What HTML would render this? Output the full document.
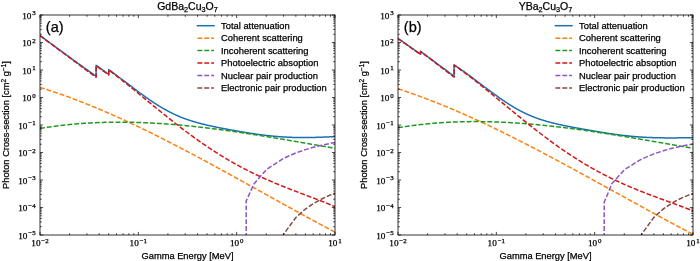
<!DOCTYPE html>
<html><head><meta charset="utf-8"><style>
*{margin:0;padding:0}
html,body{width:700px;height:261px;overflow:hidden;background:#fff}
svg{display:block;will-change:transform}
text{-webkit-font-smoothing:antialiased}
text{font-family:"Liberation Sans",sans-serif;fill:#000;stroke:#000;stroke-width:0.25px}
.tk{font-family:"Liberation Serif",serif;font-size:9.2px}
.sp{font-size:6.9px}
.lg{font-size:9.4px}
.xl{font-size:9.3px}
.s2{font-size:6.5px}
.ti{font-size:10.5px}
.sb{font-size:7.3px}
.pl{font-size:14.5px}
</style></head><body>
<svg width="700" height="261" viewBox="0 0 700 261">
<rect width="700" height="261" fill="#fff"/>
<clipPath id="ca"><rect x="40" y="15" width="295" height="220"/></clipPath>
<g clip-path="url(#ca)" fill="none" stroke-width="1.5" stroke-linejoin="round">
<path d="M40,35.53 L40.33,35.78 L40.66,36.02 L40.98,36.26 L41.31,36.5 L41.64,36.74 L41.97,36.98 L42.3,37.23 L42.63,37.47 L42.95,37.71 L43.28,37.95 L43.61,38.19 L43.94,38.43 L44.27,38.67 L44.59,38.92 L44.92,39.16 L45.25,39.4 L45.58,39.64 L45.91,39.88 L46.23,40.12 L46.56,40.36 L46.89,40.61 L47.22,40.85 L47.55,41.09 L47.88,41.33 L48.2,41.57 L48.53,41.81 L48.86,42.05 L49.19,42.29 L49.52,42.53 L49.84,42.77 L50.17,43.02 L50.5,43.26 L50.83,43.5 L51.16,43.74 L51.48,43.98 L51.81,44.22 L52.14,44.46 L52.47,44.7 L52.8,44.94 L53.13,45.18 L53.45,45.42 L53.78,45.66 L54.11,45.9 L54.44,46.15 L54.77,46.39 L55.09,46.63 L55.42,46.87 L55.75,47.11 L56.08,47.35 L56.41,47.59 L56.74,47.83 L57.06,48.07 L57.39,48.31 L57.72,48.55 L58.05,48.79 L58.38,49.03 L58.7,49.27 L59.03,49.51 L59.36,49.75 L59.69,49.99 L60.02,50.23 L60.34,50.47 L60.67,50.71 L61,50.95 L61.33,51.19 L61.66,51.43 L61.99,51.67 L62.31,51.91 L62.64,52.15 L62.97,52.39 L63.3,52.62 L63.63,52.86 L63.95,53.1 L64.28,53.34 L64.61,53.58 L64.94,53.82 L65.27,54.06 L65.6,54.3 L65.92,54.54 L66.25,54.78 L66.58,55.02 L66.91,55.26 L67.24,55.49 L67.56,55.73 L67.89,55.97 L68.22,56.21 L68.55,56.45 L68.88,56.69 L69.2,56.93 L69.53,57.17 L69.86,57.4 L70.19,57.64 L70.52,57.88 L70.85,58.12 L71.17,58.36 L71.5,58.6 L71.83,58.83 L72.16,59.07 L72.49,59.31 L72.81,59.55 L73.14,59.79 L73.47,60.02 L73.8,60.26 L74.13,60.5 L74.45,60.74 L74.78,60.97 L75.11,61.21 L75.44,61.45 L75.77,61.69 L76.1,61.92 L76.42,62.16 L76.75,62.4 L77.08,62.63 L77.41,62.87 L77.74,63.11 L78.06,63.35 L78.39,63.58 L78.72,63.82 L79.05,64.06 L79.38,64.29 L79.71,64.53 L80.03,64.76 L80.36,65 L80.69,65.24 L81.02,65.47 L81.35,65.71 L81.67,65.94 L82,66.18 L82.33,66.42 L82.66,66.65 L82.99,66.89 L83.31,67.12 L83.64,67.36 L83.97,67.59 L84.3,67.83 L84.63,68.06 L84.96,68.3 L85.28,68.53 L85.61,68.77 L85.94,69 L86.27,69.24 L86.6,69.47 L86.92,69.71 L87.25,69.94 L87.58,70.18 L87.91,70.41 L88.24,70.64 L88.57,70.88 L88.89,71.11 L89.22,71.35 L89.55,71.58 L89.88,71.81 L90.21,72.05 L90.53,72.28 L90.86,72.51 L91.19,72.74 L91.52,72.98 L91.85,73.21 L92.17,73.44 L92.5,73.68 L92.83,73.91 L93.16,74.14 L93.49,74.37 L93.82,74.6 L94.14,74.84 L94.47,75.07 L94.8,75.3 L95.13,75.53 L95.46,75.76 L95.78,75.99 L96.1,76.21 L96.1,65.26 L96.11,65.26 L96.44,65.5 L96.77,65.74 L97.1,65.98 L97.42,66.21 L97.75,66.45 L98.08,66.69 L98.41,66.92 L98.74,67.16 L99.07,67.4 L99.39,67.63 L99.72,67.87 L100.05,68.1 L100.38,68.34 L100.71,68.58 L101.03,68.81 L101.36,69.05 L101.69,69.29 L102.02,69.52 L102.35,69.76 L102.68,69.99 L103,70.23 L103.33,70.46 L103.66,70.7 L103.99,70.93 L104.32,71.17 L104.64,71.41 L104.97,71.64 L105.3,71.88 L105.63,72.11 L105.96,72.34 L106.28,72.58 L106.61,72.81 L106.94,73.05 L107.27,73.28 L107.6,73.52 L107.93,73.75 L108.25,73.99 L108.58,74.22 L108.7,74.3 L108.7,69.62 L108.91,69.77 L109.24,70.01 L109.57,70.25 L109.89,70.48 L110.22,70.72 L110.55,70.96 L110.88,71.2 L111.21,71.44 L111.54,71.68 L111.86,71.92 L112.19,72.16 L112.52,72.4 L112.85,72.64 L113.18,72.88 L113.5,73.12 L113.83,73.36 L114.16,73.6 L114.49,73.84 L114.82,74.09 L115.14,74.33 L115.47,74.57 L115.8,74.82 L116.13,75.06 L116.46,75.3 L116.79,75.55 L117.11,75.79 L117.44,76.04 L117.77,76.28 L118.1,76.53 L118.43,76.77 L118.75,77.02 L119.08,77.26 L119.41,77.51 L119.74,77.76 L120.07,78 L120.39,78.25 L120.72,78.49 L121.05,78.74 L121.38,78.99 L121.71,79.24 L122.04,79.48 L122.36,79.73 L122.69,79.98 L123.02,80.22 L123.35,80.47 L123.68,80.72 L124,80.97 L124.33,81.22 L124.66,81.46 L124.99,81.71 L125.32,81.96 L125.65,82.21 L125.97,82.46 L126.3,82.7 L126.63,82.95 L126.96,83.2 L127.29,83.45 L127.61,83.7 L127.94,83.94 L128.27,84.19 L128.6,84.44 L128.93,84.69 L129.25,84.94 L129.58,85.18 L129.91,85.43 L130.24,85.68 L130.57,85.93 L130.9,86.17 L131.22,86.42 L131.55,86.67 L131.88,86.92 L132.21,87.16 L132.54,87.41 L132.86,87.66 L133.19,87.9 L133.52,88.15 L133.85,88.4 L134.18,88.64 L134.5,88.89 L134.83,89.13 L135.16,89.38 L135.49,89.62 L135.82,89.87 L136.15,90.11 L136.47,90.36 L136.8,90.6 L137.13,90.85 L137.46,91.09 L137.79,91.33 L138.11,91.57 L138.44,91.82 L138.77,92.06 L139.1,92.3 L139.43,92.54 L139.76,92.78 L140.08,93.03 L140.41,93.27 L140.74,93.51 L141.07,93.75 L141.4,93.98 L141.72,94.22 L142.05,94.46 L142.38,94.7 L142.71,94.94 L143.04,95.17 L143.36,95.41 L143.69,95.65 L144.02,95.88 L144.35,96.12 L144.68,96.35 L145.01,96.59 L145.33,96.82 L145.66,97.05 L145.99,97.29 L146.32,97.52 L146.65,97.75 L146.97,97.98 L147.3,98.21 L147.63,98.44 L147.96,98.67 L148.29,98.9 L148.62,99.12 L148.94,99.35 L149.27,99.58 L149.6,99.8 L149.93,100.03 L150.26,100.25 L150.58,100.48 L150.91,100.7 L151.24,100.92 L151.57,101.14 L151.9,101.36 L152.22,101.58 L152.55,101.8 L152.88,102.02 L153.21,102.24 L153.54,102.46 L153.87,102.67 L154.19,102.89 L154.52,103.1 L154.85,103.32 L155.18,103.53 L155.51,103.74 L155.83,103.95 L156.16,104.16 L156.49,104.37 L156.82,104.58 L157.15,104.79 L157.47,104.99 L157.8,105.2 L158.13,105.41 L158.46,105.61 L158.79,105.81 L159.12,106.01 L159.44,106.22 L159.77,106.42 L160.1,106.62 L160.43,106.81 L160.76,107.01 L161.08,107.21 L161.41,107.4 L161.74,107.6 L162.07,107.79 L162.4,107.98 L162.73,108.18 L163.05,108.37 L163.38,108.56 L163.71,108.74 L164.04,108.93 L164.37,109.12 L164.69,109.3 L165.02,109.49 L165.35,109.67 L165.68,109.85 L166.01,110.03 L166.33,110.21 L166.66,110.39 L166.99,110.57 L167.32,110.75 L167.65,110.92 L167.98,111.1 L168.3,111.27 L168.63,111.45 L168.96,111.62 L169.29,111.79 L169.62,111.96 L169.94,112.13 L170.27,112.29 L170.6,112.46 L170.93,112.62 L171.26,112.79 L171.59,112.95 L171.91,113.11 L172.24,113.27 L172.57,113.43 L172.9,113.59 L173.23,113.75 L173.55,113.91 L173.88,114.06 L174.21,114.22 L174.54,114.37 L174.87,114.52 L175.19,114.67 L175.52,114.82 L175.85,114.97 L176.18,115.12 L176.51,115.27 L176.84,115.41 L177.16,115.56 L177.49,115.7 L177.82,115.84 L178.15,115.98 L178.48,116.13 L178.8,116.26 L179.13,116.4 L179.46,116.54 L179.79,116.68 L180.12,116.81 L180.44,116.95 L180.77,117.08 L181.1,117.21 L181.43,117.34 L181.76,117.47 L182.09,117.6 L182.41,117.73 L182.74,117.86 L183.07,117.99 L183.4,118.11 L183.73,118.24 L184.05,118.36 L184.38,118.48 L184.71,118.6 L185.04,118.72 L185.37,118.84 L185.7,118.96 L186.02,119.08 L186.35,119.2 L186.68,119.32 L187.01,119.43 L187.34,119.54 L187.66,119.66 L187.99,119.77 L188.32,119.88 L188.65,119.99 L188.98,120.1 L189.3,120.21 L189.63,120.32 L189.96,120.43 L190.29,120.54 L190.62,120.64 L190.95,120.75 L191.27,120.85 L191.6,120.96 L191.93,121.06 L192.26,121.16 L192.59,121.26 L192.91,121.36 L193.24,121.46 L193.57,121.56 L193.9,121.66 L194.23,121.76 L194.56,121.86 L194.88,121.95 L195.21,122.05 L195.54,122.15 L195.87,122.24 L196.2,122.33 L196.52,122.43 L196.85,122.52 L197.18,122.61 L197.51,122.7 L197.84,122.79 L198.16,122.88 L198.49,122.97 L198.82,123.06 L199.15,123.15 L199.48,123.24 L199.81,123.32 L200.13,123.41 L200.46,123.5 L200.79,123.58 L201.12,123.67 L201.45,123.75 L201.77,123.84 L202.1,123.92 L202.43,124 L202.76,124.08 L203.09,124.17 L203.41,124.25 L203.74,124.33 L204.07,124.41 L204.4,124.49 L204.73,124.57 L205.06,124.65 L205.38,124.73 L205.71,124.8 L206.04,124.88 L206.37,124.96 L206.7,125.04 L207.02,125.11 L207.35,125.19 L207.68,125.26 L208.01,125.34 L208.34,125.41 L208.67,125.49 L208.99,125.56 L209.32,125.64 L209.65,125.71 L209.98,125.78 L210.31,125.85 L210.63,125.93 L210.96,126 L211.29,126.07 L211.62,126.14 L211.95,126.21 L212.27,126.28 L212.6,126.35 L212.93,126.42 L213.26,126.49 L213.59,126.56 L213.92,126.63 L214.24,126.7 L214.57,126.77 L214.9,126.84 L215.23,126.91 L215.56,126.97 L215.88,127.04 L216.21,127.11 L216.54,127.18 L216.87,127.24 L217.2,127.31 L217.52,127.38 L217.85,127.44 L218.18,127.51 L218.51,127.57 L218.84,127.64 L219.17,127.7 L219.49,127.77 L219.82,127.83 L220.15,127.9 L220.48,127.96 L220.81,128.03 L221.13,128.09 L221.46,128.15 L221.79,128.22 L222.12,128.28 L222.45,128.34 L222.78,128.41 L223.1,128.47 L223.43,128.53 L223.76,128.6 L224.09,128.66 L224.42,128.72 L224.74,128.78 L225.07,128.84 L225.4,128.91 L225.73,128.97 L226.06,129.03 L226.38,129.09 L226.71,129.15 L227.04,129.21 L227.37,129.27 L227.7,129.33 L228.03,129.4 L228.35,129.46 L228.68,129.52 L229.01,129.58 L229.34,129.64 L229.67,129.7 L229.99,129.76 L230.32,129.82 L230.65,129.88 L230.98,129.94 L231.31,130 L231.64,130.06 L231.96,130.12 L232.29,130.17 L232.62,130.23 L232.95,130.29 L233.28,130.35 L233.6,130.41 L233.93,130.47 L234.26,130.53 L234.59,130.59 L234.92,130.65 L235.24,130.71 L235.57,130.76 L235.9,130.82 L236.23,130.88 L236.56,130.94 L236.89,131 L237.21,131.06 L237.54,131.11 L237.87,131.17 L238.2,131.23 L238.53,131.29 L238.85,131.35 L239.18,131.4 L239.51,131.46 L239.84,131.52 L240.17,131.58 L240.49,131.63 L240.82,131.69 L241.15,131.75 L241.48,131.8 L241.81,131.86 L242.14,131.92 L242.46,131.97 L242.79,132.03 L243.12,132.08 L243.45,132.14 L243.78,132.19 L244.1,132.25 L244.43,132.3 L244.76,132.36 L245.09,132.41 L245.42,132.47 L245.75,132.52 L246.07,132.57 L246.4,132.63 L246.73,132.68 L247.06,132.73 L247.39,132.79 L247.71,132.84 L248.04,132.89 L248.37,132.94 L248.7,132.99 L249.03,133.05 L249.35,133.1 L249.68,133.15 L250.01,133.2 L250.34,133.25 L250.67,133.3 L251,133.35 L251.32,133.4 L251.65,133.45 L251.98,133.5 L252.31,133.55 L252.64,133.6 L252.96,133.65 L253.29,133.7 L253.62,133.75 L253.95,133.79 L254.28,133.84 L254.61,133.89 L254.93,133.94 L255.26,133.98 L255.59,134.03 L255.92,134.08 L256.25,134.13 L256.57,134.17 L256.9,134.22 L257.23,134.26 L257.56,134.31 L257.89,134.35 L258.21,134.4 L258.54,134.44 L258.87,134.49 L259.2,134.53 L259.53,134.58 L259.86,134.62 L260.18,134.66 L260.51,134.71 L260.84,134.75 L261.17,134.79 L261.5,134.83 L261.82,134.88 L262.15,134.92 L262.48,134.96 L262.81,135 L263.14,135.04 L263.46,135.08 L263.79,135.12 L264.12,135.16 L264.45,135.2 L264.78,135.24 L265.11,135.28 L265.43,135.32 L265.76,135.36 L266.09,135.39 L266.42,135.43 L266.75,135.47 L267.07,135.51 L267.4,135.54 L267.73,135.58 L268.06,135.62 L268.39,135.65 L268.72,135.69 L269.04,135.73 L269.37,135.76 L269.7,135.8 L270.03,135.83 L270.36,135.86 L270.68,135.9 L271.01,135.93 L271.34,135.96 L271.67,136 L272,136.03 L272.32,136.06 L272.65,136.09 L272.98,136.13 L273.31,136.16 L273.64,136.19 L273.97,136.22 L274.29,136.25 L274.62,136.28 L274.95,136.31 L275.28,136.34 L275.61,136.37 L275.93,136.39 L276.26,136.42 L276.59,136.45 L276.92,136.48 L277.25,136.51 L277.58,136.53 L277.9,136.56 L278.23,136.58 L278.56,136.61 L278.89,136.64 L279.22,136.66 L279.54,136.69 L279.87,136.71 L280.2,136.73 L280.53,136.76 L280.86,136.78 L281.18,136.8 L281.51,136.83 L281.84,136.85 L282.17,136.87 L282.5,136.89 L282.83,136.91 L283.15,136.94 L283.48,136.96 L283.81,136.98 L284.14,137 L284.47,137.02 L284.79,137.03 L285.12,137.05 L285.45,137.07 L285.78,137.09 L286.11,137.11 L286.43,137.12 L286.76,137.14 L287.09,137.16 L287.42,137.17 L287.75,137.19 L288.08,137.21 L288.4,137.22 L288.73,137.24 L289.06,137.25 L289.39,137.26 L289.72,137.28 L290.04,137.29 L290.37,137.31 L290.7,137.32 L291.03,137.33 L291.36,137.34 L291.69,137.35 L292.01,137.37 L292.34,137.38 L292.67,137.39 L293,137.4 L293.33,137.41 L293.65,137.42 L293.98,137.43 L294.31,137.44 L294.64,137.44 L294.97,137.45 L295.29,137.46 L295.62,137.47 L295.95,137.48 L296.28,137.48 L296.61,137.49 L296.94,137.5 L297.26,137.5 L297.59,137.51 L297.92,137.51 L298.25,137.52 L298.58,137.52 L298.9,137.53 L299.23,137.53 L299.56,137.53 L299.89,137.54 L300.22,137.54 L300.54,137.54 L300.87,137.55 L301.2,137.55 L301.53,137.55 L301.86,137.55 L302.19,137.55 L302.51,137.55 L302.84,137.56 L303.17,137.56 L303.5,137.56 L303.83,137.56 L304.15,137.56 L304.48,137.55 L304.81,137.55 L305.14,137.55 L305.47,137.55 L305.8,137.55 L306.12,137.55 L306.45,137.54 L306.78,137.54 L307.11,137.54 L307.44,137.54 L307.76,137.53 L308.09,137.53 L308.42,137.52 L308.75,137.52 L309.08,137.52 L309.4,137.51 L309.73,137.51 L310.06,137.5 L310.39,137.5 L310.72,137.49 L311.05,137.48 L311.37,137.48 L311.7,137.47 L312.03,137.47 L312.36,137.46 L312.69,137.45 L313.01,137.44 L313.34,137.44 L313.67,137.43 L314,137.42 L314.33,137.41 L314.66,137.4 L314.98,137.4 L315.31,137.39 L315.64,137.38 L315.97,137.37 L316.3,137.36 L316.62,137.35 L316.95,137.34 L317.28,137.33 L317.61,137.32 L317.94,137.31 L318.26,137.3 L318.59,137.29 L318.92,137.28 L319.25,137.27 L319.58,137.26 L319.91,137.25 L320.23,137.23 L320.56,137.22 L320.89,137.21 L321.22,137.2 L321.55,137.19 L321.87,137.18 L322.2,137.16 L322.53,137.15 L322.86,137.14 L323.19,137.13 L323.51,137.11 L323.84,137.1 L324.17,137.09 L324.5,137.07 L324.83,137.06 L325.16,137.05 L325.48,137.03 L325.81,137.02 L326.14,137.01 L326.47,136.99 L326.8,136.98 L327.12,136.96 L327.45,136.95 L327.78,136.94 L328.11,136.92 L328.44,136.91 L328.77,136.89 L329.09,136.88 L329.42,136.86 L329.75,136.85 L330.08,136.83 L330.41,136.82 L330.73,136.8 L331.06,136.79 L331.39,136.77 L331.72,136.76 L332.05,136.74 L332.37,136.73 L332.7,136.71 L333.03,136.7 L333.36,136.68 L333.69,136.67 L334.02,136.65 L334.34,136.63 L334.67,136.62 L335,136.6" stroke="#1a70b2" stroke-linecap="square"/>
<path d="M40,87.4 L40.33,87.5 L40.66,87.6 L40.98,87.7 L41.31,87.8 L41.64,87.9 L41.97,88 L42.3,88.11 L42.63,88.21 L42.95,88.31 L43.28,88.41 L43.61,88.52 L43.94,88.62 L44.27,88.72 L44.59,88.83 L44.92,88.93 L45.25,89.04 L45.58,89.14 L45.91,89.25 L46.23,89.35 L46.56,89.46 L46.89,89.56 L47.22,89.67 L47.55,89.77 L47.88,89.88 L48.2,89.98 L48.53,90.09 L48.86,90.2 L49.19,90.31 L49.52,90.41 L49.84,90.52 L50.17,90.63 L50.5,90.74 L50.83,90.84 L51.16,90.95 L51.48,91.06 L51.81,91.17 L52.14,91.28 L52.47,91.39 L52.8,91.5 L53.13,91.61 L53.45,91.72 L53.78,91.83 L54.11,91.94 L54.44,92.05 L54.77,92.16 L55.09,92.27 L55.42,92.38 L55.75,92.49 L56.08,92.61 L56.41,92.72 L56.74,92.83 L57.06,92.94 L57.39,93.06 L57.72,93.17 L58.05,93.28 L58.38,93.39 L58.7,93.51 L59.03,93.62 L59.36,93.74 L59.69,93.85 L60.02,93.96 L60.34,94.08 L60.67,94.19 L61,94.31 L61.33,94.42 L61.66,94.54 L61.99,94.66 L62.31,94.77 L62.64,94.89 L62.97,95 L63.3,95.12 L63.63,95.24 L63.95,95.36 L64.28,95.47 L64.61,95.59 L64.94,95.71 L65.27,95.83 L65.6,95.94 L65.92,96.06 L66.25,96.18 L66.58,96.3 L66.91,96.42 L67.24,96.54 L67.56,96.66 L67.89,96.78 L68.22,96.9 L68.55,97.02 L68.88,97.14 L69.2,97.26 L69.53,97.38 L69.86,97.5 L70.19,97.62 L70.52,97.74 L70.85,97.86 L71.17,97.98 L71.5,98.11 L71.83,98.23 L72.16,98.35 L72.49,98.47 L72.81,98.6 L73.14,98.72 L73.47,98.84 L73.8,98.97 L74.13,99.09 L74.45,99.21 L74.78,99.34 L75.11,99.46 L75.44,99.59 L75.77,99.71 L76.1,99.84 L76.42,99.96 L76.75,100.09 L77.08,100.21 L77.41,100.34 L77.74,100.46 L78.06,100.59 L78.39,100.71 L78.72,100.84 L79.05,100.97 L79.38,101.09 L79.71,101.22 L80.03,101.35 L80.36,101.48 L80.69,101.6 L81.02,101.73 L81.35,101.86 L81.67,101.99 L82,102.12 L82.33,102.24 L82.66,102.37 L82.99,102.5 L83.31,102.63 L83.64,102.76 L83.97,102.89 L84.3,103.02 L84.63,103.15 L84.96,103.28 L85.28,103.41 L85.61,103.54 L85.94,103.67 L86.27,103.8 L86.6,103.93 L86.92,104.06 L87.25,104.2 L87.58,104.33 L87.91,104.46 L88.24,104.59 L88.57,104.72 L88.89,104.86 L89.22,104.99 L89.55,105.12 L89.88,105.25 L90.21,105.39 L90.53,105.52 L90.86,105.65 L91.19,105.79 L91.52,105.92 L91.85,106.06 L92.17,106.19 L92.5,106.33 L92.83,106.46 L93.16,106.59 L93.49,106.73 L93.82,106.87 L94.14,107 L94.47,107.14 L94.8,107.27 L95.13,107.41 L95.46,107.54 L95.78,107.68 L96.1,107.81 L96.1,107.81 L96.11,107.82 L96.44,107.95 L96.77,108.09 L97.1,108.23 L97.42,108.36 L97.75,108.5 L98.08,108.64 L98.41,108.78 L98.74,108.91 L99.07,109.05 L99.39,109.19 L99.72,109.33 L100.05,109.47 L100.38,109.61 L100.71,109.75 L101.03,109.89 L101.36,110.02 L101.69,110.16 L102.02,110.3 L102.35,110.44 L102.68,110.58 L103,110.72 L103.33,110.86 L103.66,111 L103.99,111.15 L104.32,111.29 L104.64,111.43 L104.97,111.57 L105.3,111.71 L105.63,111.85 L105.96,111.99 L106.28,112.13 L106.61,112.28 L106.94,112.42 L107.27,112.56 L107.6,112.7 L107.93,112.85 L108.25,112.99 L108.58,113.13 L108.7,113.18 L108.7,113.18 L108.91,113.28 L109.24,113.42 L109.57,113.56 L109.89,113.71 L110.22,113.85 L110.55,113.99 L110.88,114.14 L111.21,114.28 L111.54,114.43 L111.86,114.57 L112.19,114.72 L112.52,114.86 L112.85,115.01 L113.18,115.15 L113.5,115.3 L113.83,115.44 L114.16,115.59 L114.49,115.74 L114.82,115.88 L115.14,116.03 L115.47,116.18 L115.8,116.32 L116.13,116.47 L116.46,116.62 L116.79,116.76 L117.11,116.91 L117.44,117.06 L117.77,117.21 L118.1,117.35 L118.43,117.5 L118.75,117.65 L119.08,117.8 L119.41,117.95 L119.74,118.09 L120.07,118.24 L120.39,118.39 L120.72,118.54 L121.05,118.69 L121.38,118.84 L121.71,118.99 L122.04,119.14 L122.36,119.29 L122.69,119.44 L123.02,119.59 L123.35,119.74 L123.68,119.89 L124,120.04 L124.33,120.19 L124.66,120.34 L124.99,120.49 L125.32,120.64 L125.65,120.79 L125.97,120.95 L126.3,121.1 L126.63,121.25 L126.96,121.4 L127.29,121.55 L127.61,121.7 L127.94,121.86 L128.27,122.01 L128.6,122.16 L128.93,122.31 L129.25,122.47 L129.58,122.62 L129.91,122.77 L130.24,122.93 L130.57,123.08 L130.9,123.23 L131.22,123.39 L131.55,123.54 L131.88,123.7 L132.21,123.85 L132.54,124 L132.86,124.16 L133.19,124.31 L133.52,124.47 L133.85,124.62 L134.18,124.78 L134.5,124.93 L134.83,125.09 L135.16,125.24 L135.49,125.4 L135.82,125.56 L136.15,125.71 L136.47,125.87 L136.8,126.02 L137.13,126.18 L137.46,126.34 L137.79,126.49 L138.11,126.65 L138.44,126.81 L138.77,126.96 L139.1,127.12 L139.43,127.28 L139.76,127.43 L140.08,127.59 L140.41,127.75 L140.74,127.91 L141.07,128.07 L141.4,128.22 L141.72,128.38 L142.05,128.54 L142.38,128.7 L142.71,128.86 L143.04,129.02 L143.36,129.17 L143.69,129.33 L144.02,129.49 L144.35,129.65 L144.68,129.81 L145.01,129.97 L145.33,130.13 L145.66,130.29 L145.99,130.45 L146.32,130.61 L146.65,130.77 L146.97,130.93 L147.3,131.09 L147.63,131.25 L147.96,131.41 L148.29,131.57 L148.62,131.73 L148.94,131.89 L149.27,132.05 L149.6,132.21 L149.93,132.38 L150.26,132.54 L150.58,132.7 L150.91,132.86 L151.24,133.02 L151.57,133.18 L151.9,133.35 L152.22,133.51 L152.55,133.67 L152.88,133.83 L153.21,134 L153.54,134.16 L153.87,134.32 L154.19,134.48 L154.52,134.65 L154.85,134.81 L155.18,134.97 L155.51,135.14 L155.83,135.3 L156.16,135.46 L156.49,135.63 L156.82,135.79 L157.15,135.95 L157.47,136.12 L157.8,136.28 L158.13,136.45 L158.46,136.61 L158.79,136.78 L159.12,136.94 L159.44,137.11 L159.77,137.27 L160.1,137.44 L160.43,137.6 L160.76,137.77 L161.08,137.93 L161.41,138.1 L161.74,138.26 L162.07,138.43 L162.4,138.59 L162.73,138.76 L163.05,138.92 L163.38,139.09 L163.71,139.26 L164.04,139.42 L164.37,139.59 L164.69,139.76 L165.02,139.92 L165.35,140.09 L165.68,140.26 L166.01,140.42 L166.33,140.59 L166.66,140.76 L166.99,140.92 L167.32,141.09 L167.65,141.26 L167.98,141.43 L168.3,141.59 L168.63,141.76 L168.96,141.93 L169.29,142.1 L169.62,142.26 L169.94,142.43 L170.27,142.6 L170.6,142.77 L170.93,142.94 L171.26,143.11 L171.59,143.27 L171.91,143.44 L172.24,143.61 L172.57,143.78 L172.9,143.95 L173.23,144.12 L173.55,144.29 L173.88,144.46 L174.21,144.63 L174.54,144.8 L174.87,144.97 L175.19,145.14 L175.52,145.3 L175.85,145.47 L176.18,145.64 L176.51,145.81 L176.84,145.98 L177.16,146.16 L177.49,146.33 L177.82,146.5 L178.15,146.67 L178.48,146.84 L178.8,147.01 L179.13,147.18 L179.46,147.35 L179.79,147.52 L180.12,147.69 L180.44,147.86 L180.77,148.03 L181.1,148.2 L181.43,148.38 L181.76,148.55 L182.09,148.72 L182.41,148.89 L182.74,149.06 L183.07,149.23 L183.4,149.41 L183.73,149.58 L184.05,149.75 L184.38,149.92 L184.71,150.09 L185.04,150.27 L185.37,150.44 L185.7,150.61 L186.02,150.78 L186.35,150.96 L186.68,151.13 L187.01,151.3 L187.34,151.48 L187.66,151.65 L187.99,151.82 L188.32,152 L188.65,152.17 L188.98,152.34 L189.3,152.52 L189.63,152.69 L189.96,152.86 L190.29,153.04 L190.62,153.21 L190.95,153.38 L191.27,153.56 L191.6,153.73 L191.93,153.91 L192.26,154.08 L192.59,154.25 L192.91,154.43 L193.24,154.6 L193.57,154.78 L193.9,154.95 L194.23,155.13 L194.56,155.3 L194.88,155.47 L195.21,155.65 L195.54,155.82 L195.87,156 L196.2,156.17 L196.52,156.35 L196.85,156.52 L197.18,156.7 L197.51,156.87 L197.84,157.05 L198.16,157.23 L198.49,157.4 L198.82,157.58 L199.15,157.75 L199.48,157.93 L199.81,158.1 L200.13,158.28 L200.46,158.46 L200.79,158.63 L201.12,158.81 L201.45,158.98 L201.77,159.16 L202.1,159.34 L202.43,159.51 L202.76,159.69 L203.09,159.87 L203.41,160.04 L203.74,160.22 L204.07,160.39 L204.4,160.57 L204.73,160.75 L205.06,160.93 L205.38,161.1 L205.71,161.28 L206.04,161.46 L206.37,161.63 L206.7,161.81 L207.02,161.99 L207.35,162.16 L207.68,162.34 L208.01,162.52 L208.34,162.7 L208.67,162.87 L208.99,163.05 L209.32,163.23 L209.65,163.41 L209.98,163.58 L210.31,163.76 L210.63,163.94 L210.96,164.12 L211.29,164.3 L211.62,164.47 L211.95,164.65 L212.27,164.83 L212.6,165.01 L212.93,165.19 L213.26,165.36 L213.59,165.54 L213.92,165.72 L214.24,165.9 L214.57,166.08 L214.9,166.26 L215.23,166.44 L215.56,166.61 L215.88,166.79 L216.21,166.97 L216.54,167.15 L216.87,167.33 L217.2,167.51 L217.52,167.69 L217.85,167.87 L218.18,168.05 L218.51,168.22 L218.84,168.4 L219.17,168.58 L219.49,168.76 L219.82,168.94 L220.15,169.12 L220.48,169.3 L220.81,169.48 L221.13,169.66 L221.46,169.84 L221.79,170.02 L222.12,170.2 L222.45,170.38 L222.78,170.56 L223.1,170.74 L223.43,170.92 L223.76,171.1 L224.09,171.28 L224.42,171.46 L224.74,171.64 L225.07,171.82 L225.4,172 L225.73,172.18 L226.06,172.36 L226.38,172.54 L226.71,172.72 L227.04,172.9 L227.37,173.08 L227.7,173.26 L228.03,173.44 L228.35,173.62 L228.68,173.8 L229.01,173.98 L229.34,174.16 L229.67,174.34 L229.99,174.52 L230.32,174.7 L230.65,174.88 L230.98,175.06 L231.31,175.24 L231.64,175.42 L231.96,175.6 L232.29,175.78 L232.62,175.96 L232.95,176.15 L233.28,176.33 L233.6,176.51 L233.93,176.69 L234.26,176.87 L234.59,177.05 L234.92,177.23 L235.24,177.41 L235.57,177.59 L235.9,177.77 L236.23,177.96 L236.56,178.14 L236.89,178.32 L237.21,178.5 L237.54,178.68 L237.87,178.86 L238.2,179.04 L238.53,179.22 L238.85,179.41 L239.18,179.59 L239.51,179.77 L239.84,179.95 L240.17,180.13 L240.49,180.31 L240.82,180.49 L241.15,180.68 L241.48,180.86 L241.81,181.04 L242.14,181.22 L242.46,181.4 L242.79,181.58 L243.12,181.77 L243.45,181.95 L243.78,182.13 L244.1,182.31 L244.43,182.49 L244.76,182.67 L245.09,182.86 L245.42,183.04 L245.75,183.22 L246.07,183.4 L246.4,183.58 L246.73,183.77 L247.06,183.95 L247.39,184.13 L247.71,184.31 L248.04,184.49 L248.37,184.68 L248.7,184.86 L249.03,185.04 L249.35,185.22 L249.68,185.4 L250.01,185.59 L250.34,185.77 L250.67,185.95 L251,186.13 L251.32,186.31 L251.65,186.5 L251.98,186.68 L252.31,186.86 L252.64,187.04 L252.96,187.22 L253.29,187.41 L253.62,187.59 L253.95,187.77 L254.28,187.95 L254.61,188.14 L254.93,188.32 L255.26,188.5 L255.59,188.68 L255.92,188.86 L256.25,189.05 L256.57,189.23 L256.9,189.41 L257.23,189.59 L257.56,189.78 L257.89,189.96 L258.21,190.14 L258.54,190.32 L258.87,190.5 L259.2,190.69 L259.53,190.87 L259.86,191.05 L260.18,191.23 L260.51,191.42 L260.84,191.6 L261.17,191.78 L261.5,191.96 L261.82,192.15 L262.15,192.33 L262.48,192.51 L262.81,192.69 L263.14,192.87 L263.46,193.06 L263.79,193.24 L264.12,193.42 L264.45,193.6 L264.78,193.79 L265.11,193.97 L265.43,194.15 L265.76,194.33 L266.09,194.52 L266.42,194.7 L266.75,194.88 L267.07,195.06 L267.4,195.24 L267.73,195.43 L268.06,195.61 L268.39,195.79 L268.72,195.97 L269.04,196.16 L269.37,196.34 L269.7,196.52 L270.03,196.7 L270.36,196.89 L270.68,197.07 L271.01,197.25 L271.34,197.43 L271.67,197.61 L272,197.8 L272.32,197.98 L272.65,198.16 L272.98,198.34 L273.31,198.52 L273.64,198.71 L273.97,198.89 L274.29,199.07 L274.62,199.25 L274.95,199.44 L275.28,199.62 L275.61,199.8 L275.93,199.98 L276.26,200.16 L276.59,200.35 L276.92,200.53 L277.25,200.71 L277.58,200.89 L277.9,201.07 L278.23,201.26 L278.56,201.44 L278.89,201.62 L279.22,201.8 L279.54,201.98 L279.87,202.16 L280.2,202.35 L280.53,202.53 L280.86,202.71 L281.18,202.89 L281.51,203.07 L281.84,203.26 L282.17,203.44 L282.5,203.62 L282.83,203.8 L283.15,203.98 L283.48,204.16 L283.81,204.34 L284.14,204.53 L284.47,204.71 L284.79,204.89 L285.12,205.07 L285.45,205.25 L285.78,205.43 L286.11,205.62 L286.43,205.8 L286.76,205.98 L287.09,206.16 L287.42,206.34 L287.75,206.52 L288.08,206.7 L288.4,206.88 L288.73,207.07 L289.06,207.25 L289.39,207.43 L289.72,207.61 L290.04,207.79 L290.37,207.97 L290.7,208.15 L291.03,208.33 L291.36,208.51 L291.69,208.7 L292.01,208.88 L292.34,209.06 L292.67,209.24 L293,209.42 L293.33,209.6 L293.65,209.78 L293.98,209.96 L294.31,210.14 L294.64,210.32 L294.97,210.5 L295.29,210.68 L295.62,210.86 L295.95,211.04 L296.28,211.22 L296.61,211.41 L296.94,211.59 L297.26,211.77 L297.59,211.95 L297.92,212.13 L298.25,212.31 L298.58,212.49 L298.9,212.67 L299.23,212.85 L299.56,213.03 L299.89,213.21 L300.22,213.39 L300.54,213.57 L300.87,213.75 L301.2,213.93 L301.53,214.11 L301.86,214.29 L302.19,214.47 L302.51,214.65 L302.84,214.83 L303.17,215.01 L303.5,215.19 L303.83,215.36 L304.15,215.54 L304.48,215.72 L304.81,215.9 L305.14,216.08 L305.47,216.26 L305.8,216.44 L306.12,216.62 L306.45,216.8 L306.78,216.98 L307.11,217.16 L307.44,217.34 L307.76,217.52 L308.09,217.69 L308.42,217.87 L308.75,218.05 L309.08,218.23 L309.4,218.41 L309.73,218.59 L310.06,218.77 L310.39,218.95 L310.72,219.12 L311.05,219.3 L311.37,219.48 L311.7,219.66 L312.03,219.84 L312.36,220.02 L312.69,220.19 L313.01,220.37 L313.34,220.55 L313.67,220.73 L314,220.91 L314.33,221.08 L314.66,221.26 L314.98,221.44 L315.31,221.62 L315.64,221.8 L315.97,221.97 L316.3,222.15 L316.62,222.33 L316.95,222.51 L317.28,222.68 L317.61,222.86 L317.94,223.04 L318.26,223.22 L318.59,223.39 L318.92,223.57 L319.25,223.75 L319.58,223.92 L319.91,224.1 L320.23,224.28 L320.56,224.45 L320.89,224.63 L321.22,224.81 L321.55,224.98 L321.87,225.16 L322.2,225.34 L322.53,225.51 L322.86,225.69 L323.19,225.87 L323.51,226.04 L323.84,226.22 L324.17,226.4 L324.5,226.57 L324.83,226.75 L325.16,226.92 L325.48,227.1 L325.81,227.27 L326.14,227.45 L326.47,227.63 L326.8,227.8 L327.12,227.98 L327.45,228.15 L327.78,228.33 L328.11,228.5 L328.44,228.68 L328.77,228.85 L329.09,229.03 L329.42,229.2 L329.75,229.38 L330.08,229.55 L330.41,229.73 L330.73,229.9 L331.06,230.08 L331.39,230.25 L331.72,230.43 L332.05,230.6 L332.37,230.78 L332.7,230.95 L333.03,231.12 L333.36,231.3 L333.69,231.47 L334.02,231.65 L334.34,231.82 L334.67,231.99 L335,232.17" stroke="#ff7f0e" stroke-dasharray="4.9 2"/>
<path d="M40,128.47 L40.33,128.41 L40.66,128.36 L40.98,128.3 L41.31,128.25 L41.64,128.2 L41.97,128.14 L42.3,128.09 L42.63,128.04 L42.95,127.98 L43.28,127.93 L43.61,127.88 L43.94,127.82 L44.27,127.77 L44.59,127.72 L44.92,127.67 L45.25,127.62 L45.58,127.57 L45.91,127.52 L46.23,127.47 L46.56,127.41 L46.89,127.36 L47.22,127.32 L47.55,127.27 L47.88,127.22 L48.2,127.17 L48.53,127.12 L48.86,127.07 L49.19,127.02 L49.52,126.97 L49.84,126.93 L50.17,126.88 L50.5,126.83 L50.83,126.79 L51.16,126.74 L51.48,126.69 L51.81,126.65 L52.14,126.6 L52.47,126.55 L52.8,126.51 L53.13,126.46 L53.45,126.42 L53.78,126.38 L54.11,126.33 L54.44,126.29 L54.77,126.24 L55.09,126.2 L55.42,126.16 L55.75,126.11 L56.08,126.07 L56.41,126.03 L56.74,125.99 L57.06,125.94 L57.39,125.9 L57.72,125.86 L58.05,125.82 L58.38,125.78 L58.7,125.74 L59.03,125.7 L59.36,125.66 L59.69,125.62 L60.02,125.58 L60.34,125.54 L60.67,125.5 L61,125.46 L61.33,125.42 L61.66,125.38 L61.99,125.34 L62.31,125.31 L62.64,125.27 L62.97,125.23 L63.3,125.19 L63.63,125.16 L63.95,125.12 L64.28,125.08 L64.61,125.05 L64.94,125.01 L65.27,124.97 L65.6,124.94 L65.92,124.9 L66.25,124.87 L66.58,124.83 L66.91,124.8 L67.24,124.76 L67.56,124.73 L67.89,124.7 L68.22,124.66 L68.55,124.63 L68.88,124.6 L69.2,124.56 L69.53,124.53 L69.86,124.5 L70.19,124.47 L70.52,124.43 L70.85,124.4 L71.17,124.37 L71.5,124.34 L71.83,124.31 L72.16,124.28 L72.49,124.25 L72.81,124.22 L73.14,124.19 L73.47,124.16 L73.8,124.13 L74.13,124.1 L74.45,124.07 L74.78,124.04 L75.11,124.01 L75.44,123.98 L75.77,123.95 L76.1,123.93 L76.42,123.9 L76.75,123.87 L77.08,123.84 L77.41,123.82 L77.74,123.79 L78.06,123.76 L78.39,123.74 L78.72,123.71 L79.05,123.68 L79.38,123.66 L79.71,123.63 L80.03,123.61 L80.36,123.58 L80.69,123.56 L81.02,123.53 L81.35,123.51 L81.67,123.49 L82,123.46 L82.33,123.44 L82.66,123.41 L82.99,123.39 L83.31,123.37 L83.64,123.35 L83.97,123.32 L84.3,123.3 L84.63,123.28 L84.96,123.26 L85.28,123.24 L85.61,123.21 L85.94,123.19 L86.27,123.17 L86.6,123.15 L86.92,123.13 L87.25,123.11 L87.58,123.09 L87.91,123.07 L88.24,123.05 L88.57,123.03 L88.89,123.01 L89.22,122.99 L89.55,122.98 L89.88,122.96 L90.21,122.94 L90.53,122.92 L90.86,122.9 L91.19,122.89 L91.52,122.87 L91.85,122.85 L92.17,122.83 L92.5,122.82 L92.83,122.8 L93.16,122.78 L93.49,122.77 L93.82,122.75 L94.14,122.74 L94.47,122.72 L94.8,122.71 L95.13,122.69 L95.46,122.68 L95.78,122.66 L96.1,122.65 L96.1,122.65 L96.11,122.65 L96.44,122.63 L96.77,122.62 L97.1,122.61 L97.42,122.59 L97.75,122.58 L98.08,122.57 L98.41,122.55 L98.74,122.54 L99.07,122.53 L99.39,122.52 L99.72,122.5 L100.05,122.49 L100.38,122.48 L100.71,122.47 L101.03,122.46 L101.36,122.45 L101.69,122.44 L102.02,122.43 L102.35,122.41 L102.68,122.4 L103,122.39 L103.33,122.38 L103.66,122.38 L103.99,122.37 L104.32,122.36 L104.64,122.35 L104.97,122.34 L105.3,122.33 L105.63,122.32 L105.96,122.31 L106.28,122.31 L106.61,122.3 L106.94,122.29 L107.27,122.28 L107.6,122.28 L107.93,122.27 L108.25,122.26 L108.58,122.26 L108.7,122.25 L108.7,122.25 L108.91,122.25 L109.24,122.24 L109.57,122.24 L109.89,122.23 L110.22,122.23 L110.55,122.22 L110.88,122.22 L111.21,122.21 L111.54,122.21 L111.86,122.2 L112.19,122.2 L112.52,122.19 L112.85,122.19 L113.18,122.19 L113.5,122.18 L113.83,122.18 L114.16,122.18 L114.49,122.17 L114.82,122.17 L115.14,122.17 L115.47,122.17 L115.8,122.16 L116.13,122.16 L116.46,122.16 L116.79,122.16 L117.11,122.16 L117.44,122.16 L117.77,122.16 L118.1,122.16 L118.43,122.15 L118.75,122.15 L119.08,122.15 L119.41,122.15 L119.74,122.15 L120.07,122.15 L120.39,122.16 L120.72,122.16 L121.05,122.16 L121.38,122.16 L121.71,122.16 L122.04,122.16 L122.36,122.16 L122.69,122.16 L123.02,122.17 L123.35,122.17 L123.68,122.17 L124,122.17 L124.33,122.18 L124.66,122.18 L124.99,122.18 L125.32,122.19 L125.65,122.19 L125.97,122.19 L126.3,122.2 L126.63,122.2 L126.96,122.21 L127.29,122.21 L127.61,122.22 L127.94,122.22 L128.27,122.23 L128.6,122.23 L128.93,122.24 L129.25,122.24 L129.58,122.25 L129.91,122.25 L130.24,122.26 L130.57,122.27 L130.9,122.27 L131.22,122.28 L131.55,122.29 L131.88,122.29 L132.21,122.3 L132.54,122.31 L132.86,122.31 L133.19,122.32 L133.52,122.33 L133.85,122.34 L134.18,122.35 L134.5,122.36 L134.83,122.36 L135.16,122.37 L135.49,122.38 L135.82,122.39 L136.15,122.4 L136.47,122.41 L136.8,122.42 L137.13,122.43 L137.46,122.44 L137.79,122.45 L138.11,122.46 L138.44,122.47 L138.77,122.48 L139.1,122.49 L139.43,122.5 L139.76,122.51 L140.08,122.53 L140.41,122.54 L140.74,122.55 L141.07,122.56 L141.4,122.57 L141.72,122.58 L142.05,122.6 L142.38,122.61 L142.71,122.62 L143.04,122.64 L143.36,122.65 L143.69,122.66 L144.02,122.68 L144.35,122.69 L144.68,122.7 L145.01,122.72 L145.33,122.73 L145.66,122.74 L145.99,122.76 L146.32,122.77 L146.65,122.79 L146.97,122.8 L147.3,122.82 L147.63,122.83 L147.96,122.85 L148.29,122.86 L148.62,122.88 L148.94,122.9 L149.27,122.91 L149.6,122.93 L149.93,122.94 L150.26,122.96 L150.58,122.98 L150.91,123 L151.24,123.01 L151.57,123.03 L151.9,123.05 L152.22,123.06 L152.55,123.08 L152.88,123.1 L153.21,123.12 L153.54,123.14 L153.87,123.15 L154.19,123.17 L154.52,123.19 L154.85,123.21 L155.18,123.23 L155.51,123.25 L155.83,123.27 L156.16,123.29 L156.49,123.31 L156.82,123.33 L157.15,123.35 L157.47,123.37 L157.8,123.39 L158.13,123.41 L158.46,123.43 L158.79,123.45 L159.12,123.47 L159.44,123.49 L159.77,123.51 L160.1,123.53 L160.43,123.55 L160.76,123.57 L161.08,123.6 L161.41,123.62 L161.74,123.64 L162.07,123.66 L162.4,123.68 L162.73,123.71 L163.05,123.73 L163.38,123.75 L163.71,123.77 L164.04,123.8 L164.37,123.82 L164.69,123.84 L165.02,123.87 L165.35,123.89 L165.68,123.91 L166.01,123.94 L166.33,123.96 L166.66,123.99 L166.99,124.01 L167.32,124.04 L167.65,124.06 L167.98,124.08 L168.3,124.11 L168.63,124.13 L168.96,124.16 L169.29,124.18 L169.62,124.21 L169.94,124.24 L170.27,124.26 L170.6,124.29 L170.93,124.31 L171.26,124.34 L171.59,124.37 L171.91,124.39 L172.24,124.42 L172.57,124.45 L172.9,124.47 L173.23,124.5 L173.55,124.53 L173.88,124.55 L174.21,124.58 L174.54,124.61 L174.87,124.64 L175.19,124.66 L175.52,124.69 L175.85,124.72 L176.18,124.75 L176.51,124.78 L176.84,124.81 L177.16,124.83 L177.49,124.86 L177.82,124.89 L178.15,124.92 L178.48,124.95 L178.8,124.98 L179.13,125.01 L179.46,125.04 L179.79,125.07 L180.12,125.1 L180.44,125.13 L180.77,125.16 L181.1,125.19 L181.43,125.22 L181.76,125.25 L182.09,125.28 L182.41,125.31 L182.74,125.34 L183.07,125.37 L183.4,125.4 L183.73,125.44 L184.05,125.47 L184.38,125.5 L184.71,125.53 L185.04,125.56 L185.37,125.59 L185.7,125.63 L186.02,125.66 L186.35,125.69 L186.68,125.72 L187.01,125.76 L187.34,125.79 L187.66,125.82 L187.99,125.85 L188.32,125.89 L188.65,125.92 L188.98,125.95 L189.3,125.99 L189.63,126.02 L189.96,126.05 L190.29,126.09 L190.62,126.12 L190.95,126.16 L191.27,126.19 L191.6,126.22 L191.93,126.26 L192.26,126.29 L192.59,126.33 L192.91,126.36 L193.24,126.4 L193.57,126.43 L193.9,126.47 L194.23,126.5 L194.56,126.54 L194.88,126.57 L195.21,126.61 L195.54,126.64 L195.87,126.68 L196.2,126.72 L196.52,126.75 L196.85,126.79 L197.18,126.82 L197.51,126.86 L197.84,126.9 L198.16,126.93 L198.49,126.97 L198.82,127.01 L199.15,127.04 L199.48,127.08 L199.81,127.12 L200.13,127.16 L200.46,127.19 L200.79,127.23 L201.12,127.27 L201.45,127.31 L201.77,127.34 L202.1,127.38 L202.43,127.42 L202.76,127.46 L203.09,127.5 L203.41,127.54 L203.74,127.57 L204.07,127.61 L204.4,127.65 L204.73,127.69 L205.06,127.73 L205.38,127.77 L205.71,127.81 L206.04,127.85 L206.37,127.89 L206.7,127.93 L207.02,127.96 L207.35,128 L207.68,128.04 L208.01,128.08 L208.34,128.12 L208.67,128.16 L208.99,128.2 L209.32,128.24 L209.65,128.29 L209.98,128.33 L210.31,128.37 L210.63,128.41 L210.96,128.45 L211.29,128.49 L211.62,128.53 L211.95,128.57 L212.27,128.61 L212.6,128.65 L212.93,128.69 L213.26,128.74 L213.59,128.78 L213.92,128.82 L214.24,128.86 L214.57,128.9 L214.9,128.95 L215.23,128.99 L215.56,129.03 L215.88,129.07 L216.21,129.11 L216.54,129.16 L216.87,129.2 L217.2,129.24 L217.52,129.29 L217.85,129.33 L218.18,129.37 L218.51,129.41 L218.84,129.46 L219.17,129.5 L219.49,129.54 L219.82,129.59 L220.15,129.63 L220.48,129.67 L220.81,129.72 L221.13,129.76 L221.46,129.81 L221.79,129.85 L222.12,129.89 L222.45,129.94 L222.78,129.98 L223.1,130.03 L223.43,130.07 L223.76,130.12 L224.09,130.16 L224.42,130.21 L224.74,130.25 L225.07,130.3 L225.4,130.34 L225.73,130.39 L226.06,130.43 L226.38,130.48 L226.71,130.52 L227.04,130.57 L227.37,130.61 L227.7,130.66 L228.03,130.7 L228.35,130.75 L228.68,130.8 L229.01,130.84 L229.34,130.89 L229.67,130.93 L229.99,130.98 L230.32,131.03 L230.65,131.07 L230.98,131.12 L231.31,131.16 L231.64,131.21 L231.96,131.26 L232.29,131.31 L232.62,131.35 L232.95,131.4 L233.28,131.45 L233.6,131.49 L233.93,131.54 L234.26,131.59 L234.59,131.63 L234.92,131.68 L235.24,131.73 L235.57,131.78 L235.9,131.82 L236.23,131.87 L236.56,131.92 L236.89,131.97 L237.21,132.02 L237.54,132.06 L237.87,132.11 L238.2,132.16 L238.53,132.21 L238.85,132.26 L239.18,132.31 L239.51,132.35 L239.84,132.4 L240.17,132.45 L240.49,132.5 L240.82,132.55 L241.15,132.6 L241.48,132.65 L241.81,132.7 L242.14,132.74 L242.46,132.79 L242.79,132.84 L243.12,132.89 L243.45,132.94 L243.78,132.99 L244.1,133.04 L244.43,133.09 L244.76,133.14 L245.09,133.19 L245.42,133.24 L245.75,133.29 L246.07,133.34 L246.4,133.39 L246.73,133.44 L247.06,133.49 L247.39,133.54 L247.71,133.59 L248.04,133.64 L248.37,133.69 L248.7,133.74 L249.03,133.79 L249.35,133.84 L249.68,133.89 L250.01,133.94 L250.34,133.99 L250.67,134.04 L251,134.09 L251.32,134.15 L251.65,134.2 L251.98,134.25 L252.31,134.3 L252.64,134.35 L252.96,134.4 L253.29,134.45 L253.62,134.5 L253.95,134.56 L254.28,134.61 L254.61,134.66 L254.93,134.71 L255.26,134.76 L255.59,134.81 L255.92,134.87 L256.25,134.92 L256.57,134.97 L256.9,135.02 L257.23,135.07 L257.56,135.13 L257.89,135.18 L258.21,135.23 L258.54,135.28 L258.87,135.33 L259.2,135.39 L259.53,135.44 L259.86,135.49 L260.18,135.54 L260.51,135.6 L260.84,135.65 L261.17,135.7 L261.5,135.75 L261.82,135.81 L262.15,135.86 L262.48,135.91 L262.81,135.97 L263.14,136.02 L263.46,136.07 L263.79,136.12 L264.12,136.18 L264.45,136.23 L264.78,136.28 L265.11,136.34 L265.43,136.39 L265.76,136.44 L266.09,136.5 L266.42,136.55 L266.75,136.6 L267.07,136.66 L267.4,136.71 L267.73,136.77 L268.06,136.82 L268.39,136.87 L268.72,136.93 L269.04,136.98 L269.37,137.03 L269.7,137.09 L270.03,137.14 L270.36,137.2 L270.68,137.25 L271.01,137.3 L271.34,137.36 L271.67,137.41 L272,137.47 L272.32,137.52 L272.65,137.58 L272.98,137.63 L273.31,137.68 L273.64,137.74 L273.97,137.79 L274.29,137.85 L274.62,137.9 L274.95,137.96 L275.28,138.01 L275.61,138.07 L275.93,138.12 L276.26,138.18 L276.59,138.23 L276.92,138.29 L277.25,138.34 L277.58,138.4 L277.9,138.45 L278.23,138.51 L278.56,138.56 L278.89,138.62 L279.22,138.67 L279.54,138.73 L279.87,138.78 L280.2,138.84 L280.53,138.89 L280.86,138.95 L281.18,139 L281.51,139.06 L281.84,139.11 L282.17,139.17 L282.5,139.22 L282.83,139.28 L283.15,139.33 L283.48,139.39 L283.81,139.45 L284.14,139.5 L284.47,139.56 L284.79,139.61 L285.12,139.67 L285.45,139.72 L285.78,139.78 L286.11,139.84 L286.43,139.89 L286.76,139.95 L287.09,140 L287.42,140.06 L287.75,140.11 L288.08,140.17 L288.4,140.23 L288.73,140.28 L289.06,140.34 L289.39,140.39 L289.72,140.45 L290.04,140.51 L290.37,140.56 L290.7,140.62 L291.03,140.68 L291.36,140.73 L291.69,140.79 L292.01,140.84 L292.34,140.9 L292.67,140.96 L293,141.01 L293.33,141.07 L293.65,141.13 L293.98,141.18 L294.31,141.24 L294.64,141.29 L294.97,141.35 L295.29,141.41 L295.62,141.46 L295.95,141.52 L296.28,141.58 L296.61,141.63 L296.94,141.69 L297.26,141.75 L297.59,141.8 L297.92,141.86 L298.25,141.92 L298.58,141.97 L298.9,142.03 L299.23,142.09 L299.56,142.14 L299.89,142.2 L300.22,142.26 L300.54,142.31 L300.87,142.37 L301.2,142.43 L301.53,142.48 L301.86,142.54 L302.19,142.6 L302.51,142.65 L302.84,142.71 L303.17,142.77 L303.5,142.82 L303.83,142.88 L304.15,142.94 L304.48,143 L304.81,143.05 L305.14,143.11 L305.47,143.17 L305.8,143.22 L306.12,143.28 L306.45,143.34 L306.78,143.39 L307.11,143.45 L307.44,143.51 L307.76,143.56 L308.09,143.62 L308.42,143.68 L308.75,143.74 L309.08,143.79 L309.4,143.85 L309.73,143.91 L310.06,143.96 L310.39,144.02 L310.72,144.08 L311.05,144.13 L311.37,144.19 L311.7,144.25 L312.03,144.31 L312.36,144.36 L312.69,144.42 L313.01,144.48 L313.34,144.53 L313.67,144.59 L314,144.65 L314.33,144.71 L314.66,144.76 L314.98,144.82 L315.31,144.88 L315.64,144.93 L315.97,144.99 L316.3,145.05 L316.62,145.1 L316.95,145.16 L317.28,145.22 L317.61,145.28 L317.94,145.33 L318.26,145.39 L318.59,145.45 L318.92,145.5 L319.25,145.56 L319.58,145.62 L319.91,145.67 L320.23,145.73 L320.56,145.79 L320.89,145.85 L321.22,145.9 L321.55,145.96 L321.87,146.02 L322.2,146.07 L322.53,146.13 L322.86,146.19 L323.19,146.25 L323.51,146.3 L323.84,146.36 L324.17,146.42 L324.5,146.47 L324.83,146.53 L325.16,146.59 L325.48,146.64 L325.81,146.7 L326.14,146.76 L326.47,146.81 L326.8,146.87 L327.12,146.93 L327.45,146.98 L327.78,147.04 L328.11,147.1 L328.44,147.16 L328.77,147.21 L329.09,147.27 L329.42,147.33 L329.75,147.38 L330.08,147.44 L330.41,147.5 L330.73,147.55 L331.06,147.61 L331.39,147.67 L331.72,147.72 L332.05,147.78 L332.37,147.84 L332.7,147.89 L333.03,147.95 L333.36,148.01 L333.69,148.06 L334.02,148.12 L334.34,148.18 L334.67,148.23 L335,148.29" stroke="#1e9a1e" stroke-dasharray="4.9 2"/>
<path d="M40,35.7 L40.33,35.94 L40.66,36.18 L40.98,36.43 L41.31,36.67 L41.64,36.91 L41.97,37.16 L42.3,37.4 L42.63,37.65 L42.95,37.89 L43.28,38.13 L43.61,38.38 L43.94,38.62 L44.27,38.86 L44.59,39.11 L44.92,39.35 L45.25,39.59 L45.58,39.84 L45.91,40.08 L46.23,40.33 L46.56,40.57 L46.89,40.81 L47.22,41.06 L47.55,41.3 L47.88,41.54 L48.2,41.79 L48.53,42.03 L48.86,42.28 L49.19,42.52 L49.52,42.76 L49.84,43.01 L50.17,43.25 L50.5,43.49 L50.83,43.74 L51.16,43.98 L51.48,44.23 L51.81,44.47 L52.14,44.71 L52.47,44.96 L52.8,45.2 L53.13,45.44 L53.45,45.69 L53.78,45.93 L54.11,46.17 L54.44,46.42 L54.77,46.66 L55.09,46.91 L55.42,47.15 L55.75,47.39 L56.08,47.64 L56.41,47.88 L56.74,48.12 L57.06,48.37 L57.39,48.61 L57.72,48.86 L58.05,49.1 L58.38,49.34 L58.7,49.59 L59.03,49.83 L59.36,50.07 L59.69,50.32 L60.02,50.56 L60.34,50.81 L60.67,51.05 L61,51.29 L61.33,51.54 L61.66,51.78 L61.99,52.02 L62.31,52.27 L62.64,52.51 L62.97,52.75 L63.3,53 L63.63,53.24 L63.95,53.49 L64.28,53.73 L64.61,53.97 L64.94,54.22 L65.27,54.46 L65.6,54.7 L65.92,54.95 L66.25,55.19 L66.58,55.44 L66.91,55.68 L67.24,55.92 L67.56,56.17 L67.89,56.41 L68.22,56.65 L68.55,56.9 L68.88,57.14 L69.2,57.39 L69.53,57.63 L69.86,57.87 L70.19,58.12 L70.52,58.36 L70.85,58.6 L71.17,58.85 L71.5,59.09 L71.83,59.33 L72.16,59.58 L72.49,59.82 L72.81,60.07 L73.14,60.31 L73.47,60.55 L73.8,60.8 L74.13,61.04 L74.45,61.28 L74.78,61.53 L75.11,61.77 L75.44,62.02 L75.77,62.26 L76.1,62.5 L76.42,62.75 L76.75,62.99 L77.08,63.23 L77.41,63.48 L77.74,63.72 L78.06,63.97 L78.39,64.21 L78.72,64.45 L79.05,64.7 L79.38,64.94 L79.71,65.18 L80.03,65.43 L80.36,65.67 L80.69,65.91 L81.02,66.16 L81.35,66.4 L81.67,66.65 L82,66.89 L82.33,67.13 L82.66,67.38 L82.99,67.62 L83.31,67.86 L83.64,68.11 L83.97,68.35 L84.3,68.6 L84.63,68.84 L84.96,69.08 L85.28,69.33 L85.61,69.57 L85.94,69.81 L86.27,70.06 L86.6,70.3 L86.92,70.54 L87.25,70.79 L87.58,71.03 L87.91,71.28 L88.24,71.52 L88.57,71.76 L88.89,72.01 L89.22,72.25 L89.55,72.49 L89.88,72.74 L90.21,72.98 L90.53,73.23 L90.86,73.47 L91.19,73.71 L91.52,73.96 L91.85,74.2 L92.17,74.44 L92.5,74.69 L92.83,74.93 L93.16,75.18 L93.49,75.42 L93.82,75.66 L94.14,75.91 L94.47,76.15 L94.8,76.39 L95.13,76.64 L95.46,76.88 L95.78,77.12 L96.1,77.36 L96.1,65.7 L96.11,65.71 L96.44,65.95 L96.77,66.19 L97.1,66.44 L97.42,66.68 L97.75,66.92 L98.08,67.16 L98.41,67.4 L98.74,67.65 L99.07,67.89 L99.39,68.13 L99.72,68.37 L100.05,68.62 L100.38,68.86 L100.71,69.1 L101.03,69.34 L101.36,69.58 L101.69,69.83 L102.02,70.07 L102.35,70.31 L102.68,70.55 L103,70.8 L103.33,71.04 L103.66,71.28 L103.99,71.52 L104.32,71.76 L104.64,72.01 L104.97,72.25 L105.3,72.49 L105.63,72.73 L105.96,72.98 L106.28,73.22 L106.61,73.46 L106.94,73.7 L107.27,73.94 L107.6,74.19 L107.93,74.43 L108.25,74.67 L108.58,74.91 L108.7,75 L108.7,70.09 L108.91,70.24 L109.24,70.49 L109.57,70.73 L109.89,70.97 L110.22,71.22 L110.55,71.46 L110.88,71.7 L111.21,71.95 L111.54,72.19 L111.86,72.44 L112.19,72.69 L112.52,72.93 L112.85,73.18 L113.18,73.43 L113.5,73.68 L113.83,73.93 L114.16,74.18 L114.49,74.43 L114.82,74.68 L115.14,74.93 L115.47,75.18 L115.8,75.43 L116.13,75.68 L116.46,75.93 L116.79,76.18 L117.11,76.44 L117.44,76.69 L117.77,76.94 L118.1,77.2 L118.43,77.45 L118.75,77.71 L119.08,77.96 L119.41,78.22 L119.74,78.47 L120.07,78.73 L120.39,78.99 L120.72,79.24 L121.05,79.5 L121.38,79.76 L121.71,80.02 L122.04,80.27 L122.36,80.53 L122.69,80.79 L123.02,81.05 L123.35,81.31 L123.68,81.57 L124,81.83 L124.33,82.09 L124.66,82.35 L124.99,82.61 L125.32,82.87 L125.65,83.13 L125.97,83.4 L126.3,83.66 L126.63,83.92 L126.96,84.18 L127.29,84.44 L127.61,84.71 L127.94,84.97 L128.27,85.23 L128.6,85.5 L128.93,85.76 L129.25,86.03 L129.58,86.29 L129.91,86.55 L130.24,86.82 L130.57,87.08 L130.9,87.35 L131.22,87.61 L131.55,87.88 L131.88,88.14 L132.21,88.41 L132.54,88.68 L132.86,88.94 L133.19,89.21 L133.52,89.47 L133.85,89.74 L134.18,90.01 L134.5,90.27 L134.83,90.54 L135.16,90.81 L135.49,91.07 L135.82,91.34 L136.15,91.61 L136.47,91.88 L136.8,92.14 L137.13,92.41 L137.46,92.68 L137.79,92.95 L138.11,93.22 L138.44,93.48 L138.77,93.75 L139.1,94.02 L139.43,94.29 L139.76,94.56 L140.08,94.83 L140.41,95.09 L140.74,95.36 L141.07,95.63 L141.4,95.9 L141.72,96.17 L142.05,96.44 L142.38,96.71 L142.71,96.98 L143.04,97.24 L143.36,97.51 L143.69,97.78 L144.02,98.05 L144.35,98.32 L144.68,98.59 L145.01,98.86 L145.33,99.13 L145.66,99.4 L145.99,99.67 L146.32,99.94 L146.65,100.21 L146.97,100.47 L147.3,100.74 L147.63,101.01 L147.96,101.28 L148.29,101.55 L148.62,101.82 L148.94,102.09 L149.27,102.36 L149.6,102.63 L149.93,102.9 L150.26,103.16 L150.58,103.43 L150.91,103.7 L151.24,103.97 L151.57,104.24 L151.9,104.51 L152.22,104.78 L152.55,105.05 L152.88,105.31 L153.21,105.58 L153.54,105.85 L153.87,106.12 L154.19,106.39 L154.52,106.65 L154.85,106.92 L155.18,107.19 L155.51,107.46 L155.83,107.73 L156.16,107.99 L156.49,108.26 L156.82,108.53 L157.15,108.79 L157.47,109.06 L157.8,109.33 L158.13,109.59 L158.46,109.86 L158.79,110.13 L159.12,110.39 L159.44,110.66 L159.77,110.93 L160.1,111.19 L160.43,111.46 L160.76,111.72 L161.08,111.99 L161.41,112.26 L161.74,112.52 L162.07,112.79 L162.4,113.05 L162.73,113.31 L163.05,113.58 L163.38,113.84 L163.71,114.11 L164.04,114.37 L164.37,114.64 L164.69,114.9 L165.02,115.16 L165.35,115.43 L165.68,115.69 L166.01,115.95 L166.33,116.21 L166.66,116.48 L166.99,116.74 L167.32,117 L167.65,117.26 L167.98,117.53 L168.3,117.79 L168.63,118.05 L168.96,118.31 L169.29,118.57 L169.62,118.83 L169.94,119.09 L170.27,119.35 L170.6,119.61 L170.93,119.87 L171.26,120.13 L171.59,120.39 L171.91,120.65 L172.24,120.91 L172.57,121.16 L172.9,121.42 L173.23,121.68 L173.55,121.94 L173.88,122.2 L174.21,122.45 L174.54,122.71 L174.87,122.97 L175.19,123.22 L175.52,123.48 L175.85,123.73 L176.18,123.99 L176.51,124.24 L176.84,124.5 L177.16,124.75 L177.49,125.01 L177.82,125.26 L178.15,125.52 L178.48,125.77 L178.8,126.02 L179.13,126.28 L179.46,126.53 L179.79,126.78 L180.12,127.03 L180.44,127.28 L180.77,127.54 L181.1,127.79 L181.43,128.04 L181.76,128.29 L182.09,128.54 L182.41,128.79 L182.74,129.04 L183.07,129.29 L183.4,129.54 L183.73,129.78 L184.05,130.03 L184.38,130.28 L184.71,130.53 L185.04,130.78 L185.37,131.02 L185.7,131.27 L186.02,131.51 L186.35,131.76 L186.68,132.01 L187.01,132.25 L187.34,132.5 L187.66,132.74 L187.99,132.99 L188.32,133.23 L188.65,133.47 L188.98,133.72 L189.3,133.96 L189.63,134.2 L189.96,134.44 L190.29,134.68 L190.62,134.93 L190.95,135.17 L191.27,135.41 L191.6,135.65 L191.93,135.89 L192.26,136.13 L192.59,136.37 L192.91,136.6 L193.24,136.84 L193.57,137.08 L193.9,137.32 L194.23,137.56 L194.56,137.79 L194.88,138.03 L195.21,138.26 L195.54,138.5 L195.87,138.74 L196.2,138.97 L196.52,139.21 L196.85,139.44 L197.18,139.67 L197.51,139.91 L197.84,140.14 L198.16,140.37 L198.49,140.6 L198.82,140.84 L199.15,141.07 L199.48,141.3 L199.81,141.53 L200.13,141.76 L200.46,141.99 L200.79,142.22 L201.12,142.45 L201.45,142.68 L201.77,142.9 L202.1,143.13 L202.43,143.36 L202.76,143.59 L203.09,143.81 L203.41,144.04 L203.74,144.26 L204.07,144.49 L204.4,144.71 L204.73,144.94 L205.06,145.16 L205.38,145.39 L205.71,145.61 L206.04,145.83 L206.37,146.05 L206.7,146.28 L207.02,146.5 L207.35,146.72 L207.68,146.94 L208.01,147.16 L208.34,147.38 L208.67,147.6 L208.99,147.82 L209.32,148.03 L209.65,148.25 L209.98,148.47 L210.31,148.69 L210.63,148.9 L210.96,149.12 L211.29,149.34 L211.62,149.55 L211.95,149.77 L212.27,149.98 L212.6,150.19 L212.93,150.41 L213.26,150.62 L213.59,150.83 L213.92,151.05 L214.24,151.26 L214.57,151.47 L214.9,151.68 L215.23,151.89 L215.56,152.1 L215.88,152.31 L216.21,152.52 L216.54,152.73 L216.87,152.94 L217.2,153.15 L217.52,153.35 L217.85,153.56 L218.18,153.77 L218.51,153.97 L218.84,154.18 L219.17,154.38 L219.49,154.59 L219.82,154.79 L220.15,155 L220.48,155.2 L220.81,155.4 L221.13,155.61 L221.46,155.81 L221.79,156.01 L222.12,156.21 L222.45,156.41 L222.78,156.61 L223.1,156.81 L223.43,157.01 L223.76,157.21 L224.09,157.41 L224.42,157.61 L224.74,157.8 L225.07,158 L225.4,158.2 L225.73,158.39 L226.06,158.59 L226.38,158.78 L226.71,158.98 L227.04,159.17 L227.37,159.37 L227.7,159.56 L228.03,159.75 L228.35,159.95 L228.68,160.14 L229.01,160.33 L229.34,160.52 L229.67,160.71 L229.99,160.9 L230.32,161.09 L230.65,161.28 L230.98,161.47 L231.31,161.66 L231.64,161.85 L231.96,162.04 L232.29,162.22 L232.62,162.41 L232.95,162.6 L233.28,162.78 L233.6,162.97 L233.93,163.15 L234.26,163.34 L234.59,163.52 L234.92,163.7 L235.24,163.89 L235.57,164.07 L235.9,164.25 L236.23,164.43 L236.56,164.62 L236.89,164.8 L237.21,164.98 L237.54,165.16 L237.87,165.34 L238.2,165.52 L238.53,165.7 L238.85,165.87 L239.18,166.05 L239.51,166.23 L239.84,166.41 L240.17,166.58 L240.49,166.76 L240.82,166.94 L241.15,167.11 L241.48,167.29 L241.81,167.46 L242.14,167.63 L242.46,167.81 L242.79,167.98 L243.12,168.15 L243.45,168.33 L243.78,168.5 L244.1,168.67 L244.43,168.84 L244.76,169.01 L245.09,169.18 L245.42,169.35 L245.75,169.52 L246.07,169.69 L246.4,169.86 L246.73,170.03 L247.06,170.19 L247.39,170.36 L247.71,170.53 L248.04,170.69 L248.37,170.86 L248.7,171.03 L249.03,171.19 L249.35,171.36 L249.68,171.52 L250.01,171.68 L250.34,171.85 L250.67,172.01 L251,172.17 L251.32,172.34 L251.65,172.5 L251.98,172.66 L252.31,172.82 L252.64,172.98 L252.96,173.14 L253.29,173.3 L253.62,173.46 L253.95,173.62 L254.28,173.78 L254.61,173.94 L254.93,174.09 L255.26,174.25 L255.59,174.41 L255.92,174.57 L256.25,174.72 L256.57,174.88 L256.9,175.03 L257.23,175.19 L257.56,175.34 L257.89,175.5 L258.21,175.65 L258.54,175.81 L258.87,175.96 L259.2,176.11 L259.53,176.27 L259.86,176.42 L260.18,176.57 L260.51,176.72 L260.84,176.87 L261.17,177.02 L261.5,177.17 L261.82,177.32 L262.15,177.47 L262.48,177.62 L262.81,177.77 L263.14,177.92 L263.46,178.07 L263.79,178.22 L264.12,178.37 L264.45,178.51 L264.78,178.66 L265.11,178.81 L265.43,178.95 L265.76,179.1 L266.09,179.24 L266.42,179.39 L266.75,179.53 L267.07,179.68 L267.4,179.82 L267.73,179.97 L268.06,180.11 L268.39,180.25 L268.72,180.4 L269.04,180.54 L269.37,180.68 L269.7,180.83 L270.03,180.97 L270.36,181.11 L270.68,181.25 L271.01,181.39 L271.34,181.53 L271.67,181.67 L272,181.81 L272.32,181.95 L272.65,182.09 L272.98,182.23 L273.31,182.37 L273.64,182.51 L273.97,182.65 L274.29,182.78 L274.62,182.92 L274.95,183.06 L275.28,183.2 L275.61,183.33 L275.93,183.47 L276.26,183.6 L276.59,183.74 L276.92,183.88 L277.25,184.01 L277.58,184.15 L277.9,184.28 L278.23,184.42 L278.56,184.55 L278.89,184.69 L279.22,184.82 L279.54,184.95 L279.87,185.09 L280.2,185.22 L280.53,185.35 L280.86,185.49 L281.18,185.62 L281.51,185.75 L281.84,185.88 L282.17,186.02 L282.5,186.15 L282.83,186.28 L283.15,186.41 L283.48,186.54 L283.81,186.67 L284.14,186.8 L284.47,186.93 L284.79,187.06 L285.12,187.19 L285.45,187.32 L285.78,187.45 L286.11,187.58 L286.43,187.71 L286.76,187.84 L287.09,187.97 L287.42,188.1 L287.75,188.23 L288.08,188.35 L288.4,188.48 L288.73,188.61 L289.06,188.74 L289.39,188.87 L289.72,188.99 L290.04,189.12 L290.37,189.25 L290.7,189.38 L291.03,189.5 L291.36,189.63 L291.69,189.76 L292.01,189.88 L292.34,190.01 L292.67,190.13 L293,190.26 L293.33,190.39 L293.65,190.51 L293.98,190.64 L294.31,190.76 L294.64,190.89 L294.97,191.02 L295.29,191.14 L295.62,191.27 L295.95,191.39 L296.28,191.52 L296.61,191.64 L296.94,191.77 L297.26,191.89 L297.59,192.01 L297.92,192.14 L298.25,192.26 L298.58,192.39 L298.9,192.51 L299.23,192.64 L299.56,192.76 L299.89,192.89 L300.22,193.01 L300.54,193.13 L300.87,193.26 L301.2,193.38 L301.53,193.51 L301.86,193.63 L302.19,193.75 L302.51,193.88 L302.84,194 L303.17,194.13 L303.5,194.25 L303.83,194.37 L304.15,194.5 L304.48,194.62 L304.81,194.74 L305.14,194.87 L305.47,194.99 L305.8,195.12 L306.12,195.24 L306.45,195.36 L306.78,195.49 L307.11,195.61 L307.44,195.73 L307.76,195.86 L308.09,195.98 L308.42,196.11 L308.75,196.23 L309.08,196.35 L309.4,196.48 L309.73,196.6 L310.06,196.73 L310.39,196.85 L310.72,196.97 L311.05,197.1 L311.37,197.22 L311.7,197.35 L312.03,197.47 L312.36,197.6 L312.69,197.72 L313.01,197.85 L313.34,197.97 L313.67,198.1 L314,198.22 L314.33,198.35 L314.66,198.47 L314.98,198.6 L315.31,198.72 L315.64,198.85 L315.97,198.98 L316.3,199.1 L316.62,199.23 L316.95,199.35 L317.28,199.48 L317.61,199.61 L317.94,199.73 L318.26,199.86 L318.59,199.99 L318.92,200.12 L319.25,200.24 L319.58,200.37 L319.91,200.5 L320.23,200.63 L320.56,200.75 L320.89,200.88 L321.22,201.01 L321.55,201.14 L321.87,201.27 L322.2,201.4 L322.53,201.53 L322.86,201.66 L323.19,201.79 L323.51,201.92 L323.84,202.05 L324.17,202.18 L324.5,202.31 L324.83,202.44 L325.16,202.57 L325.48,202.7 L325.81,202.83 L326.14,202.97 L326.47,203.1 L326.8,203.23 L327.12,203.36 L327.45,203.5 L327.78,203.63 L328.11,203.77 L328.44,203.9 L328.77,204.03 L329.09,204.17 L329.42,204.3 L329.75,204.44 L330.08,204.57 L330.41,204.71 L330.73,204.85 L331.06,204.98 L331.39,205.12 L331.72,205.26 L332.05,205.4 L332.37,205.53 L332.7,205.67 L333.03,205.81 L333.36,205.95 L333.69,206.09 L334.02,206.23 L334.34,206.37 L334.67,206.51 L335,206.65" stroke="#d41414" stroke-dasharray="4.9 2"/>
<path d="M246.2,300 L246.2,200.9 L253.98,183.89 L266.27,169.73 L267.2,168.95 L283.58,158.37 L295.87,152.94 L305.4,149.62 L313.18,147.34 L319.77,145.67 L325.47,144.39 L330.5,143.39 L335,142.58" stroke="#8c55c4" stroke-dasharray="4.9 2"/>
<path d="M283.58,300 L283.58,234.3 L295.87,217.45 L305.4,209.05 L313.18,203.74 L319.77,199.98 L325.47,197.15 L330.5,194.92 L335,193.11" stroke="#864840" stroke-dasharray="4.9 2"/>
</g>
<rect x="40" y="15" width="295" height="220" fill="none" stroke="#000" stroke-width="0.8"/>
<path d="M40,235v-3.1M40,15v3.1M69.6,235v-1.8M69.6,15v1.8M86.92,235v-1.8M86.92,15v1.8M99.2,235v-1.8M99.2,15v1.8M108.73,235v-1.8M108.73,15v1.8M116.52,235v-1.8M116.52,15v1.8M123.1,235v-1.8M123.1,15v1.8M128.8,235v-1.8M128.8,15v1.8M133.83,235v-1.8M133.83,15v1.8M138.33,235v-3.1M138.33,15v3.1M167.93,235v-1.8M167.93,15v1.8M185.25,235v-1.8M185.25,15v1.8M197.54,235v-1.8M197.54,15v1.8M207.07,235v-1.8M207.07,15v1.8M214.85,235v-1.8M214.85,15v1.8M221.43,235v-1.8M221.43,15v1.8M227.14,235v-1.8M227.14,15v1.8M232.17,235v-1.8M232.17,15v1.8M236.67,235v-3.1M236.67,15v3.1M266.27,235v-1.8M266.27,15v1.8M283.58,235v-1.8M283.58,15v1.8M295.87,235v-1.8M295.87,15v1.8M305.4,235v-1.8M305.4,15v1.8M313.18,235v-1.8M313.18,15v1.8M319.77,235v-1.8M319.77,15v1.8M325.47,235v-1.8M325.47,15v1.8M330.5,235v-1.8M330.5,15v1.8M335,235v-3.1M335,15v3.1M40,235h3.1M335,235h-3.1M40,226.72h1.8M335,226.72h-1.8M40,221.88h1.8M335,221.88h-1.8M40,218.44h1.8M335,218.44h-1.8M40,215.78h1.8M335,215.78h-1.8M40,213.6h1.8M335,213.6h-1.8M40,211.76h1.8M335,211.76h-1.8M40,210.17h1.8M335,210.17h-1.8M40,208.76h1.8M335,208.76h-1.8M40,207.5h3.1M335,207.5h-3.1M40,199.22h1.8M335,199.22h-1.8M40,194.38h1.8M335,194.38h-1.8M40,190.94h1.8M335,190.94h-1.8M40,188.28h1.8M335,188.28h-1.8M40,186.1h1.8M335,186.1h-1.8M40,184.26h1.8M335,184.26h-1.8M40,182.67h1.8M335,182.67h-1.8M40,181.26h1.8M335,181.26h-1.8M40,180h3.1M335,180h-3.1M40,171.72h1.8M335,171.72h-1.8M40,166.88h1.8M335,166.88h-1.8M40,163.44h1.8M335,163.44h-1.8M40,160.78h1.8M335,160.78h-1.8M40,158.6h1.8M335,158.6h-1.8M40,156.76h1.8M335,156.76h-1.8M40,155.17h1.8M335,155.17h-1.8M40,153.76h1.8M335,153.76h-1.8M40,152.5h3.1M335,152.5h-3.1M40,144.22h1.8M335,144.22h-1.8M40,139.38h1.8M335,139.38h-1.8M40,135.94h1.8M335,135.94h-1.8M40,133.28h1.8M335,133.28h-1.8M40,131.1h1.8M335,131.1h-1.8M40,129.26h1.8M335,129.26h-1.8M40,127.67h1.8M335,127.67h-1.8M40,126.26h1.8M335,126.26h-1.8M40,125h3.1M335,125h-3.1M40,116.72h1.8M335,116.72h-1.8M40,111.88h1.8M335,111.88h-1.8M40,108.44h1.8M335,108.44h-1.8M40,105.78h1.8M335,105.78h-1.8M40,103.6h1.8M335,103.6h-1.8M40,101.76h1.8M335,101.76h-1.8M40,100.17h1.8M335,100.17h-1.8M40,98.76h1.8M335,98.76h-1.8M40,97.5h3.1M335,97.5h-3.1M40,89.22h1.8M335,89.22h-1.8M40,84.38h1.8M335,84.38h-1.8M40,80.94h1.8M335,80.94h-1.8M40,78.28h1.8M335,78.28h-1.8M40,76.1h1.8M335,76.1h-1.8M40,74.26h1.8M335,74.26h-1.8M40,72.67h1.8M335,72.67h-1.8M40,71.26h1.8M335,71.26h-1.8M40,70h3.1M335,70h-3.1M40,61.72h1.8M335,61.72h-1.8M40,56.88h1.8M335,56.88h-1.8M40,53.44h1.8M335,53.44h-1.8M40,50.78h1.8M335,50.78h-1.8M40,48.6h1.8M335,48.6h-1.8M40,46.76h1.8M335,46.76h-1.8M40,45.17h1.8M335,45.17h-1.8M40,43.76h1.8M335,43.76h-1.8M40,42.5h3.1M335,42.5h-3.1M40,34.22h1.8M335,34.22h-1.8M40,29.38h1.8M335,29.38h-1.8M40,25.94h1.8M335,25.94h-1.8M40,23.28h1.8M335,23.28h-1.8M40,21.1h1.8M335,21.1h-1.8M40,19.26h1.8M335,19.26h-1.8M40,17.67h1.8M335,17.67h-1.8M40,16.26h1.8M335,16.26h-1.8M40,15h3.1M335,15h-3.1" stroke="#000" stroke-width="0.7" fill="none"/>
<text class="tk" x="35.7" y="238.7" text-anchor="end">10<tspan class="sp" dx="0.9" dy="-3.4">−5</tspan></text>
<text class="tk" x="35.7" y="211.2" text-anchor="end">10<tspan class="sp" dx="0.9" dy="-3.4">−4</tspan></text>
<text class="tk" x="35.7" y="183.7" text-anchor="end">10<tspan class="sp" dx="0.9" dy="-3.4">−3</tspan></text>
<text class="tk" x="35.7" y="156.2" text-anchor="end">10<tspan class="sp" dx="0.9" dy="-3.4">−2</tspan></text>
<text class="tk" x="35.7" y="128.7" text-anchor="end">10<tspan class="sp" dx="0.9" dy="-3.4">−1</tspan></text>
<text class="tk" x="35.7" y="101.2" text-anchor="end">10<tspan class="sp" dx="0.9" dy="-3.4">0</tspan></text>
<text class="tk" x="35.7" y="73.7" text-anchor="end">10<tspan class="sp" dx="0.9" dy="-3.4">1</tspan></text>
<text class="tk" x="35.7" y="46.2" text-anchor="end">10<tspan class="sp" dx="0.9" dy="-3.4">2</tspan></text>
<text class="tk" x="35.7" y="18.7" text-anchor="end">10<tspan class="sp" dx="0.9" dy="-3.4">3</tspan></text>
<text class="tk" x="40" y="246.4" text-anchor="middle">10<tspan class="sp" dx="0.9" dy="-3.4">−2</tspan></text>
<text class="tk" x="138.33" y="246.4" text-anchor="middle">10<tspan class="sp" dx="0.9" dy="-3.4">−1</tspan></text>
<text class="tk" x="236.67" y="246.4" text-anchor="middle">10<tspan class="sp" dx="0.9" dy="-3.4">0</tspan></text>
<text class="tk" x="335" y="246.4" text-anchor="middle">10<tspan class="sp" dx="0.9" dy="-3.4">1</tspan></text>
<path d="M197.4,25.7h16.6" stroke="#1a70b2" stroke-width="1.5" stroke-linecap="square"/>
<text class="lg" x="221" y="29">Total attenuation</text>
<path d="M197.4,38.14h16.6" stroke="#ff7f0e" stroke-width="1.5" stroke-dasharray="4.9 2"/>
<text class="lg" x="221" y="41.44">Coherent scattering</text>
<path d="M197.4,50.58h16.6" stroke="#1e9a1e" stroke-width="1.5" stroke-dasharray="4.9 2"/>
<text class="lg" x="221" y="53.88">Incoherent scattering</text>
<path d="M197.4,63.02h16.6" stroke="#d41414" stroke-width="1.5" stroke-dasharray="4.9 2"/>
<text class="lg" x="221" y="66.32">Photoelectric absoption</text>
<path d="M197.4,75.46h16.6" stroke="#8c55c4" stroke-width="1.5" stroke-dasharray="4.9 2"/>
<text class="lg" x="221" y="78.76">Nuclear pair production</text>
<path d="M197.4,87.9h16.6" stroke="#864840" stroke-width="1.5" stroke-dasharray="4.9 2"/>
<text class="lg" x="221" y="91.2">Electronic pair production</text>
<text class="ti" x="187.5" y="9.7" text-anchor="middle">GdBa<tspan class="sb" dy="2.4">2</tspan><tspan dy="-2.4">​</tspan>Cu<tspan class="sb" dy="2.4">3</tspan><tspan dy="-2.4">​</tspan>O<tspan class="sb" dy="2.4">7</tspan><tspan dy="-2.4">​</tspan></text>
<text class="xl" x="187.5" y="258.6" text-anchor="middle">Gamma Energy [MeV]</text>
<text class="xl" transform="translate(9.3,125) rotate(-90)" text-anchor="middle">Photon Cross-section [cm<tspan class="s2" dy="-3.4">2</tspan><tspan dy="3.4"> g</tspan><tspan class="s2" dy="-3.4">−1</tspan><tspan dy="3.4">]</tspan></text>
<text class="pl" x="45.8" y="32.2">(a)</text>
<clipPath id="cb"><rect x="398" y="15" width="295" height="220"/></clipPath>
<g clip-path="url(#cb)" fill="none" stroke-width="1.5" stroke-linejoin="round">
<path d="M398,38.42 L398.33,38.65 L398.66,38.88 L398.98,39.11 L399.31,39.34 L399.64,39.57 L399.97,39.79 L400.3,40.02 L400.63,40.25 L400.95,40.48 L401.28,40.71 L401.61,40.94 L401.94,41.17 L402.27,41.4 L402.59,41.63 L402.92,41.86 L403.25,42.09 L403.58,42.32 L403.91,42.55 L404.23,42.78 L404.56,43.01 L404.89,43.24 L405.22,43.47 L405.55,43.7 L405.88,43.93 L406.2,44.16 L406.53,44.39 L406.86,44.61 L407.19,44.84 L407.52,45.07 L407.84,45.3 L408.17,45.53 L408.5,45.76 L408.83,45.99 L409.16,46.22 L409.48,46.45 L409.81,46.68 L410.14,46.91 L410.47,47.14 L410.8,47.36 L411.13,47.59 L411.45,47.82 L411.78,48.05 L412.11,48.28 L412.44,48.51 L412.77,48.74 L413.09,48.97 L413.42,49.19 L413.75,49.42 L414.08,49.65 L414.41,49.88 L414.74,50.11 L415.06,50.34 L415.39,50.57 L415.72,50.79 L416.05,51.02 L416.38,51.25 L416.7,51.48 L417.03,51.71 L417.36,51.94 L417.69,52.17 L418.02,52.39 L418.34,52.62 L418.67,52.85 L419,53.08 L419.33,53.31 L419.66,53.53 L419.99,53.76 L420.31,53.99 L420.5,54.12 L420.5,51.21 L420.64,51.32 L420.97,51.57 L421.3,51.81 L421.63,52.06 L421.95,52.31 L422.28,52.55 L422.61,52.8 L422.94,53.05 L423.27,53.29 L423.6,53.54 L423.92,53.79 L424.25,54.03 L424.58,54.28 L424.91,54.53 L425.24,54.77 L425.56,55.02 L425.89,55.27 L426.22,55.51 L426.55,55.76 L426.88,56.01 L427.2,56.25 L427.53,56.5 L427.86,56.74 L428.19,56.99 L428.52,57.24 L428.85,57.48 L429.17,57.73 L429.5,57.97 L429.83,58.22 L430.16,58.47 L430.49,58.71 L430.81,58.96 L431.14,59.2 L431.47,59.45 L431.8,59.69 L432.13,59.94 L432.45,60.18 L432.78,60.43 L433.11,60.67 L433.44,60.92 L433.77,61.16 L434.1,61.41 L434.42,61.65 L434.75,61.9 L435.08,62.14 L435.41,62.39 L435.74,62.63 L436.06,62.88 L436.39,63.12 L436.72,63.37 L437.05,63.61 L437.38,63.85 L437.71,64.1 L438.03,64.34 L438.36,64.59 L438.69,64.83 L439.02,65.07 L439.35,65.32 L439.67,65.56 L440,65.81 L440.33,66.05 L440.66,66.29 L440.99,66.54 L441.31,66.78 L441.64,67.02 L441.97,67.26 L442.3,67.51 L442.63,67.75 L442.96,67.99 L443.28,68.24 L443.61,68.48 L443.94,68.72 L444.27,68.96 L444.6,69.21 L444.92,69.45 L445.25,69.69 L445.58,69.93 L445.91,70.17 L446.24,70.41 L446.57,70.66 L446.89,70.9 L447.22,71.14 L447.55,71.38 L447.88,71.62 L448.21,71.86 L448.53,72.1 L448.86,72.34 L449.19,72.58 L449.52,72.83 L449.85,73.07 L450.17,73.31 L450.5,73.55 L450.83,73.79 L451.16,74.03 L451.49,74.27 L451.82,74.5 L452.14,74.74 L452.47,74.98 L452.8,75.22 L453.13,75.46 L453.46,75.7 L453.78,75.94 L454.1,76.17 L454.1,64.81 L454.11,64.82 L454.44,65.04 L454.77,65.26 L455.1,65.48 L455.42,65.7 L455.75,65.92 L456.08,66.15 L456.41,66.37 L456.74,66.59 L457.07,66.82 L457.39,67.04 L457.72,67.27 L458.05,67.5 L458.38,67.72 L458.71,67.95 L459.03,68.18 L459.36,68.41 L459.69,68.64 L460.02,68.86 L460.35,69.09 L460.68,69.33 L461,69.56 L461.33,69.79 L461.66,70.02 L461.99,70.25 L462.32,70.48 L462.64,70.72 L462.97,70.95 L463.3,71.19 L463.63,71.42 L463.96,71.66 L464.28,71.89 L464.61,72.13 L464.94,72.36 L465.27,72.6 L465.6,72.84 L465.93,73.08 L466.25,73.31 L466.58,73.55 L466.91,73.79 L467.24,74.03 L467.57,74.27 L467.89,74.51 L468.22,74.75 L468.55,74.99 L468.88,75.23 L469.21,75.47 L469.54,75.71 L469.86,75.95 L470.19,76.19 L470.52,76.44 L470.85,76.68 L471.18,76.92 L471.5,77.16 L471.83,77.41 L472.16,77.65 L472.49,77.89 L472.82,78.14 L473.14,78.38 L473.47,78.63 L473.8,78.87 L474.13,79.12 L474.46,79.36 L474.79,79.61 L475.11,79.85 L475.44,80.1 L475.77,80.34 L476.1,80.59 L476.43,80.83 L476.75,81.08 L477.08,81.33 L477.41,81.57 L477.74,81.82 L478.07,82.06 L478.39,82.31 L478.72,82.56 L479.05,82.8 L479.38,83.05 L479.71,83.3 L480.04,83.54 L480.36,83.79 L480.69,84.04 L481.02,84.28 L481.35,84.53 L481.68,84.78 L482,85.02 L482.33,85.27 L482.66,85.52 L482.99,85.76 L483.32,86.01 L483.65,86.26 L483.97,86.5 L484.3,86.75 L484.63,86.99 L484.96,87.24 L485.29,87.49 L485.61,87.73 L485.94,87.98 L486.27,88.22 L486.6,88.47 L486.93,88.71 L487.25,88.96 L487.58,89.2 L487.91,89.45 L488.24,89.69 L488.57,89.94 L488.9,90.18 L489.22,90.42 L489.55,90.67 L489.88,90.91 L490.21,91.15 L490.54,91.4 L490.86,91.64 L491.19,91.88 L491.52,92.12 L491.85,92.36 L492.18,92.6 L492.5,92.84 L492.83,93.08 L493.16,93.32 L493.49,93.56 L493.82,93.8 L494.15,94.04 L494.47,94.28 L494.8,94.52 L495.13,94.76 L495.46,94.99 L495.79,95.23 L496.11,95.47 L496.44,95.7 L496.77,95.94 L497.1,96.17 L497.43,96.41 L497.76,96.64 L498.08,96.87 L498.41,97.1 L498.74,97.34 L499.07,97.57 L499.4,97.8 L499.72,98.03 L500.05,98.26 L500.38,98.49 L500.71,98.72 L501.04,98.94 L501.36,99.17 L501.69,99.4 L502.02,99.62 L502.35,99.85 L502.68,100.07 L503.01,100.3 L503.33,100.52 L503.66,100.74 L503.99,100.96 L504.32,101.18 L504.65,101.4 L504.97,101.62 L505.3,101.84 L505.63,102.06 L505.96,102.28 L506.29,102.49 L506.62,102.71 L506.94,102.92 L507.27,103.14 L507.6,103.35 L507.93,103.56 L508.26,103.77 L508.58,103.98 L508.91,104.19 L509.24,104.4 L509.57,104.61 L509.9,104.81 L510.22,105.02 L510.55,105.22 L510.88,105.43 L511.21,105.63 L511.54,105.83 L511.87,106.03 L512.19,106.23 L512.52,106.43 L512.85,106.63 L513.18,106.83 L513.51,107.02 L513.83,107.22 L514.16,107.41 L514.49,107.6 L514.82,107.79 L515.15,107.99 L515.47,108.17 L515.8,108.36 L516.13,108.55 L516.46,108.74 L516.79,108.92 L517.12,109.11 L517.44,109.29 L517.77,109.47 L518.1,109.65 L518.43,109.83 L518.76,110.01 L519.08,110.19 L519.41,110.37 L519.74,110.54 L520.07,110.72 L520.4,110.89 L520.73,111.06 L521.05,111.23 L521.38,111.4 L521.71,111.57 L522.04,111.74 L522.37,111.91 L522.69,112.07 L523.02,112.24 L523.35,112.4 L523.68,112.56 L524.01,112.72 L524.33,112.88 L524.66,113.04 L524.99,113.2 L525.32,113.36 L525.65,113.51 L525.98,113.67 L526.3,113.82 L526.63,113.97 L526.96,114.12 L527.29,114.27 L527.62,114.42 L527.94,114.57 L528.27,114.71 L528.6,114.86 L528.93,115 L529.26,115.15 L529.59,115.29 L529.91,115.43 L530.24,115.57 L530.57,115.71 L530.9,115.85 L531.23,115.98 L531.55,116.12 L531.88,116.25 L532.21,116.39 L532.54,116.52 L532.87,116.65 L533.19,116.78 L533.52,116.91 L533.85,117.04 L534.18,117.16 L534.51,117.29 L534.84,117.42 L535.16,117.54 L535.49,117.66 L535.82,117.79 L536.15,117.91 L536.48,118.03 L536.8,118.15 L537.13,118.26 L537.46,118.38 L537.79,118.5 L538.12,118.61 L538.44,118.73 L538.77,118.84 L539.1,118.96 L539.43,119.07 L539.76,119.18 L540.09,119.29 L540.41,119.4 L540.74,119.51 L541.07,119.61 L541.4,119.72 L541.73,119.83 L542.05,119.93 L542.38,120.04 L542.71,120.14 L543.04,120.24 L543.37,120.34 L543.7,120.44 L544.02,120.54 L544.35,120.64 L544.68,120.74 L545.01,120.84 L545.34,120.94 L545.66,121.03 L545.99,121.13 L546.32,121.22 L546.65,121.32 L546.98,121.41 L547.3,121.51 L547.63,121.6 L547.96,121.69 L548.29,121.78 L548.62,121.87 L548.95,121.96 L549.27,122.05 L549.6,122.14 L549.93,122.23 L550.26,122.31 L550.59,122.4 L550.91,122.48 L551.24,122.57 L551.57,122.65 L551.9,122.74 L552.23,122.82 L552.56,122.91 L552.88,122.99 L553.21,123.07 L553.54,123.15 L553.87,123.23 L554.2,123.31 L554.52,123.39 L554.85,123.47 L555.18,123.55 L555.51,123.63 L555.84,123.71 L556.16,123.79 L556.49,123.86 L556.82,123.94 L557.15,124.02 L557.48,124.09 L557.81,124.17 L558.13,124.24 L558.46,124.32 L558.79,124.39 L559.12,124.46 L559.45,124.54 L559.77,124.61 L560.1,124.68 L560.43,124.75 L560.76,124.83 L561.09,124.9 L561.41,124.97 L561.74,125.04 L562.07,125.11 L562.4,125.18 L562.73,125.25 L563.06,125.32 L563.38,125.39 L563.71,125.46 L564.04,125.52 L564.37,125.59 L564.7,125.66 L565.02,125.73 L565.35,125.79 L565.68,125.86 L566.01,125.93 L566.34,125.99 L566.67,126.06 L566.99,126.13 L567.32,126.19 L567.65,126.26 L567.98,126.32 L568.31,126.39 L568.63,126.45 L568.96,126.52 L569.29,126.58 L569.62,126.64 L569.95,126.71 L570.27,126.77 L570.6,126.83 L570.93,126.9 L571.26,126.96 L571.59,127.02 L571.92,127.09 L572.24,127.15 L572.57,127.21 L572.9,127.27 L573.23,127.33 L573.56,127.4 L573.88,127.46 L574.21,127.52 L574.54,127.58 L574.87,127.64 L575.2,127.7 L575.52,127.76 L575.85,127.82 L576.18,127.88 L576.51,127.94 L576.84,128 L577.17,128.06 L577.49,128.12 L577.82,128.18 L578.15,128.24 L578.48,128.3 L578.81,128.36 L579.13,128.42 L579.46,128.48 L579.79,128.54 L580.12,128.6 L580.45,128.66 L580.78,128.72 L581.1,128.77 L581.43,128.83 L581.76,128.89 L582.09,128.95 L582.42,129.01 L582.74,129.07 L583.07,129.12 L583.4,129.18 L583.73,129.24 L584.06,129.3 L584.38,129.35 L584.71,129.41 L585.04,129.47 L585.37,129.53 L585.7,129.58 L586.03,129.64 L586.35,129.7 L586.68,129.76 L587.01,129.81 L587.34,129.87 L587.67,129.93 L587.99,129.98 L588.32,130.04 L588.65,130.1 L588.98,130.16 L589.31,130.21 L589.64,130.27 L589.96,130.33 L590.29,130.38 L590.62,130.44 L590.95,130.5 L591.28,130.55 L591.6,130.61 L591.93,130.66 L592.26,130.72 L592.59,130.78 L592.92,130.83 L593.24,130.89 L593.57,130.95 L593.9,131 L594.23,131.06 L594.56,131.12 L594.89,131.17 L595.21,131.23 L595.54,131.28 L595.87,131.34 L596.2,131.4 L596.53,131.45 L596.85,131.51 L597.18,131.56 L597.51,131.62 L597.84,131.68 L598.17,131.73 L598.49,131.79 L598.82,131.84 L599.15,131.9 L599.48,131.95 L599.81,132.01 L600.14,132.06 L600.46,132.12 L600.79,132.17 L601.12,132.23 L601.45,132.28 L601.78,132.33 L602.1,132.39 L602.43,132.44 L602.76,132.49 L603.09,132.55 L603.42,132.6 L603.75,132.65 L604.07,132.71 L604.4,132.76 L604.73,132.81 L605.06,132.86 L605.39,132.92 L605.71,132.97 L606.04,133.02 L606.37,133.07 L606.7,133.12 L607.03,133.17 L607.35,133.22 L607.68,133.27 L608.01,133.32 L608.34,133.37 L608.67,133.42 L609,133.47 L609.32,133.52 L609.65,133.57 L609.98,133.62 L610.31,133.67 L610.64,133.72 L610.96,133.77 L611.29,133.82 L611.62,133.86 L611.95,133.91 L612.28,133.96 L612.61,134.01 L612.93,134.05 L613.26,134.1 L613.59,134.15 L613.92,134.19 L614.25,134.24 L614.57,134.28 L614.9,134.33 L615.23,134.37 L615.56,134.42 L615.89,134.46 L616.21,134.51 L616.54,134.55 L616.87,134.6 L617.2,134.64 L617.53,134.68 L617.86,134.73 L618.18,134.77 L618.51,134.81 L618.84,134.86 L619.17,134.9 L619.5,134.94 L619.82,134.98 L620.15,135.02 L620.48,135.06 L620.81,135.11 L621.14,135.15 L621.46,135.19 L621.79,135.23 L622.12,135.27 L622.45,135.31 L622.78,135.35 L623.11,135.38 L623.43,135.42 L623.76,135.46 L624.09,135.5 L624.42,135.54 L624.75,135.57 L625.07,135.61 L625.4,135.65 L625.73,135.69 L626.06,135.72 L626.39,135.76 L626.72,135.79 L627.04,135.83 L627.37,135.86 L627.7,135.9 L628.03,135.93 L628.36,135.97 L628.68,136 L629.01,136.03 L629.34,136.07 L629.67,136.1 L630,136.13 L630.32,136.17 L630.65,136.2 L630.98,136.23 L631.31,136.26 L631.64,136.29 L631.97,136.32 L632.29,136.35 L632.62,136.38 L632.95,136.41 L633.28,136.44 L633.61,136.47 L633.93,136.5 L634.26,136.53 L634.59,136.56 L634.92,136.59 L635.25,136.61 L635.58,136.64 L635.9,136.67 L636.23,136.7 L636.56,136.72 L636.89,136.75 L637.22,136.77 L637.54,136.8 L637.87,136.82 L638.2,136.85 L638.53,136.87 L638.86,136.9 L639.18,136.92 L639.51,136.95 L639.84,136.97 L640.17,136.99 L640.5,137.01 L640.83,137.04 L641.15,137.06 L641.48,137.08 L641.81,137.1 L642.14,137.12 L642.47,137.14 L642.79,137.16 L643.12,137.18 L643.45,137.2 L643.78,137.22 L644.11,137.24 L644.43,137.26 L644.76,137.28 L645.09,137.3 L645.42,137.32 L645.75,137.33 L646.08,137.35 L646.4,137.37 L646.73,137.38 L647.06,137.4 L647.39,137.42 L647.72,137.43 L648.04,137.45 L648.37,137.46 L648.7,137.48 L649.03,137.49 L649.36,137.51 L649.69,137.52 L650.01,137.54 L650.34,137.55 L650.67,137.56 L651,137.57 L651.33,137.59 L651.65,137.6 L651.98,137.61 L652.31,137.62 L652.64,137.64 L652.97,137.65 L653.29,137.66 L653.62,137.67 L653.95,137.68 L654.28,137.69 L654.61,137.7 L654.94,137.71 L655.26,137.72 L655.59,137.73 L655.92,137.74 L656.25,137.74 L656.58,137.75 L656.9,137.76 L657.23,137.77 L657.56,137.78 L657.89,137.78 L658.22,137.79 L658.54,137.8 L658.87,137.8 L659.2,137.81 L659.53,137.82 L659.86,137.82 L660.19,137.83 L660.51,137.83 L660.84,137.84 L661.17,137.84 L661.5,137.85 L661.83,137.85 L662.15,137.86 L662.48,137.86 L662.81,137.87 L663.14,137.87 L663.47,137.87 L663.8,137.88 L664.12,137.88 L664.45,137.88 L664.78,137.89 L665.11,137.89 L665.44,137.89 L665.76,137.89 L666.09,137.89 L666.42,137.9 L666.75,137.9 L667.08,137.9 L667.4,137.9 L667.73,137.9 L668.06,137.9 L668.39,137.9 L668.72,137.9 L669.05,137.91 L669.37,137.91 L669.7,137.91 L670.03,137.91 L670.36,137.91 L670.69,137.91 L671.01,137.9 L671.34,137.9 L671.67,137.9 L672,137.9 L672.33,137.9 L672.66,137.9 L672.98,137.9 L673.31,137.9 L673.64,137.9 L673.97,137.9 L674.3,137.89 L674.62,137.89 L674.95,137.89 L675.28,137.89 L675.61,137.89 L675.94,137.88 L676.26,137.88 L676.59,137.88 L676.92,137.88 L677.25,137.88 L677.58,137.87 L677.91,137.87 L678.23,137.87 L678.56,137.86 L678.89,137.86 L679.22,137.86 L679.55,137.86 L679.87,137.85 L680.2,137.85 L680.53,137.85 L680.86,137.84 L681.19,137.84 L681.51,137.84 L681.84,137.83 L682.17,137.83 L682.5,137.83 L682.83,137.82 L683.16,137.82 L683.48,137.81 L683.81,137.81 L684.14,137.81 L684.47,137.8 L684.8,137.8 L685.12,137.8 L685.45,137.79 L685.78,137.79 L686.11,137.78 L686.44,137.78 L686.77,137.78 L687.09,137.77 L687.42,137.77 L687.75,137.76 L688.08,137.76 L688.41,137.76 L688.73,137.75 L689.06,137.75 L689.39,137.74 L689.72,137.74 L690.05,137.74 L690.37,137.73 L690.7,137.73 L691.03,137.73 L691.36,137.72 L691.69,137.72 L692.02,137.71 L692.34,137.71 L692.67,137.71 L693,137.7" stroke="#1a70b2" stroke-linecap="square"/>
<path d="M398,88.79 L398.33,88.9 L398.66,89.01 L398.98,89.11 L399.31,89.22 L399.64,89.33 L399.97,89.43 L400.3,89.54 L400.63,89.65 L400.95,89.76 L401.28,89.86 L401.61,89.97 L401.94,90.08 L402.27,90.19 L402.59,90.3 L402.92,90.41 L403.25,90.52 L403.58,90.63 L403.91,90.74 L404.23,90.85 L404.56,90.96 L404.89,91.07 L405.22,91.18 L405.55,91.29 L405.88,91.4 L406.2,91.51 L406.53,91.62 L406.86,91.73 L407.19,91.85 L407.52,91.96 L407.84,92.07 L408.17,92.18 L408.5,92.3 L408.83,92.41 L409.16,92.52 L409.48,92.64 L409.81,92.75 L410.14,92.87 L410.47,92.98 L410.8,93.09 L411.13,93.21 L411.45,93.32 L411.78,93.44 L412.11,93.55 L412.44,93.67 L412.77,93.78 L413.09,93.9 L413.42,94.02 L413.75,94.13 L414.08,94.25 L414.41,94.37 L414.74,94.48 L415.06,94.6 L415.39,94.72 L415.72,94.84 L416.05,94.95 L416.38,95.07 L416.7,95.19 L417.03,95.31 L417.36,95.43 L417.69,95.55 L418.02,95.66 L418.34,95.78 L418.67,95.9 L419,96.02 L419.33,96.14 L419.66,96.26 L419.99,96.38 L420.31,96.5 L420.5,96.57 L420.5,96.57 L420.64,96.62 L420.97,96.75 L421.3,96.87 L421.63,96.99 L421.95,97.11 L422.28,97.23 L422.61,97.35 L422.94,97.48 L423.27,97.6 L423.6,97.72 L423.92,97.84 L424.25,97.97 L424.58,98.09 L424.91,98.21 L425.24,98.34 L425.56,98.46 L425.89,98.58 L426.22,98.71 L426.55,98.83 L426.88,98.96 L427.2,99.08 L427.53,99.21 L427.86,99.33 L428.19,99.46 L428.52,99.58 L428.85,99.71 L429.17,99.83 L429.5,99.96 L429.83,100.09 L430.16,100.21 L430.49,100.34 L430.81,100.47 L431.14,100.59 L431.47,100.72 L431.8,100.85 L432.13,100.98 L432.45,101.1 L432.78,101.23 L433.11,101.36 L433.44,101.49 L433.77,101.62 L434.1,101.75 L434.42,101.87 L434.75,102 L435.08,102.13 L435.41,102.26 L435.74,102.39 L436.06,102.52 L436.39,102.65 L436.72,102.78 L437.05,102.91 L437.38,103.04 L437.71,103.18 L438.03,103.31 L438.36,103.44 L438.69,103.57 L439.02,103.7 L439.35,103.83 L439.67,103.96 L440,104.1 L440.33,104.23 L440.66,104.36 L440.99,104.49 L441.31,104.63 L441.64,104.76 L441.97,104.89 L442.3,105.03 L442.63,105.16 L442.96,105.29 L443.28,105.43 L443.61,105.56 L443.94,105.7 L444.27,105.83 L444.6,105.97 L444.92,106.1 L445.25,106.24 L445.58,106.37 L445.91,106.51 L446.24,106.64 L446.57,106.78 L446.89,106.91 L447.22,107.05 L447.55,107.19 L447.88,107.32 L448.21,107.46 L448.53,107.6 L448.86,107.73 L449.19,107.87 L449.52,108.01 L449.85,108.15 L450.17,108.28 L450.5,108.42 L450.83,108.56 L451.16,108.7 L451.49,108.84 L451.82,108.98 L452.14,109.11 L452.47,109.25 L452.8,109.39 L453.13,109.53 L453.46,109.67 L453.78,109.81 L454.1,109.94 L454.1,109.94 L454.11,109.95 L454.44,110.09 L454.77,110.23 L455.1,110.37 L455.42,110.51 L455.75,110.65 L456.08,110.79 L456.41,110.93 L456.74,111.07 L457.07,111.22 L457.39,111.36 L457.72,111.5 L458.05,111.64 L458.38,111.78 L458.71,111.92 L459.03,112.07 L459.36,112.21 L459.69,112.35 L460.02,112.49 L460.35,112.64 L460.68,112.78 L461,112.92 L461.33,113.07 L461.66,113.21 L461.99,113.35 L462.32,113.5 L462.64,113.64 L462.97,113.79 L463.3,113.93 L463.63,114.08 L463.96,114.22 L464.28,114.37 L464.61,114.51 L464.94,114.66 L465.27,114.8 L465.6,114.95 L465.93,115.09 L466.25,115.24 L466.58,115.38 L466.91,115.53 L467.24,115.68 L467.57,115.82 L467.89,115.97 L468.22,116.12 L468.55,116.26 L468.88,116.41 L469.21,116.56 L469.54,116.7 L469.86,116.85 L470.19,117 L470.52,117.15 L470.85,117.3 L471.18,117.44 L471.5,117.59 L471.83,117.74 L472.16,117.89 L472.49,118.04 L472.82,118.19 L473.14,118.34 L473.47,118.48 L473.8,118.63 L474.13,118.78 L474.46,118.93 L474.79,119.08 L475.11,119.23 L475.44,119.38 L475.77,119.53 L476.1,119.68 L476.43,119.83 L476.75,119.98 L477.08,120.14 L477.41,120.29 L477.74,120.44 L478.07,120.59 L478.39,120.74 L478.72,120.89 L479.05,121.04 L479.38,121.2 L479.71,121.35 L480.04,121.5 L480.36,121.65 L480.69,121.8 L481.02,121.96 L481.35,122.11 L481.68,122.26 L482,122.41 L482.33,122.57 L482.66,122.72 L482.99,122.87 L483.32,123.03 L483.65,123.18 L483.97,123.34 L484.3,123.49 L484.63,123.64 L484.96,123.8 L485.29,123.95 L485.61,124.11 L485.94,124.26 L486.27,124.42 L486.6,124.57 L486.93,124.72 L487.25,124.88 L487.58,125.04 L487.91,125.19 L488.24,125.35 L488.57,125.5 L488.9,125.66 L489.22,125.81 L489.55,125.97 L489.88,126.13 L490.21,126.28 L490.54,126.44 L490.86,126.6 L491.19,126.75 L491.52,126.91 L491.85,127.07 L492.18,127.22 L492.5,127.38 L492.83,127.54 L493.16,127.69 L493.49,127.85 L493.82,128.01 L494.15,128.17 L494.47,128.33 L494.8,128.48 L495.13,128.64 L495.46,128.8 L495.79,128.96 L496.11,129.12 L496.44,129.28 L496.77,129.44 L497.1,129.59 L497.43,129.75 L497.76,129.91 L498.08,130.07 L498.41,130.23 L498.74,130.39 L499.07,130.55 L499.4,130.71 L499.72,130.87 L500.05,131.03 L500.38,131.19 L500.71,131.35 L501.04,131.51 L501.36,131.67 L501.69,131.83 L502.02,131.99 L502.35,132.15 L502.68,132.32 L503.01,132.48 L503.33,132.64 L503.66,132.8 L503.99,132.96 L504.32,133.12 L504.65,133.28 L504.97,133.45 L505.3,133.61 L505.63,133.77 L505.96,133.93 L506.29,134.1 L506.62,134.26 L506.94,134.42 L507.27,134.58 L507.6,134.75 L507.93,134.91 L508.26,135.07 L508.58,135.23 L508.91,135.4 L509.24,135.56 L509.57,135.72 L509.9,135.89 L510.22,136.05 L510.55,136.22 L510.88,136.38 L511.21,136.54 L511.54,136.71 L511.87,136.87 L512.19,137.04 L512.52,137.2 L512.85,137.37 L513.18,137.53 L513.51,137.69 L513.83,137.86 L514.16,138.02 L514.49,138.19 L514.82,138.35 L515.15,138.52 L515.47,138.69 L515.8,138.85 L516.13,139.02 L516.46,139.18 L516.79,139.35 L517.12,139.51 L517.44,139.68 L517.77,139.85 L518.1,140.01 L518.43,140.18 L518.76,140.34 L519.08,140.51 L519.41,140.68 L519.74,140.84 L520.07,141.01 L520.4,141.18 L520.73,141.35 L521.05,141.51 L521.38,141.68 L521.71,141.85 L522.04,142.01 L522.37,142.18 L522.69,142.35 L523.02,142.52 L523.35,142.69 L523.68,142.85 L524.01,143.02 L524.33,143.19 L524.66,143.36 L524.99,143.53 L525.32,143.69 L525.65,143.86 L525.98,144.03 L526.3,144.2 L526.63,144.37 L526.96,144.54 L527.29,144.71 L527.62,144.88 L527.94,145.04 L528.27,145.21 L528.6,145.38 L528.93,145.55 L529.26,145.72 L529.59,145.89 L529.91,146.06 L530.24,146.23 L530.57,146.4 L530.9,146.57 L531.23,146.74 L531.55,146.91 L531.88,147.08 L532.21,147.25 L532.54,147.42 L532.87,147.59 L533.19,147.76 L533.52,147.93 L533.85,148.1 L534.18,148.27 L534.51,148.44 L534.84,148.62 L535.16,148.79 L535.49,148.96 L535.82,149.13 L536.15,149.3 L536.48,149.47 L536.8,149.64 L537.13,149.81 L537.46,149.99 L537.79,150.16 L538.12,150.33 L538.44,150.5 L538.77,150.67 L539.1,150.85 L539.43,151.02 L539.76,151.19 L540.09,151.36 L540.41,151.53 L540.74,151.71 L541.07,151.88 L541.4,152.05 L541.73,152.22 L542.05,152.4 L542.38,152.57 L542.71,152.74 L543.04,152.92 L543.37,153.09 L543.7,153.26 L544.02,153.44 L544.35,153.61 L544.68,153.78 L545.01,153.96 L545.34,154.13 L545.66,154.3 L545.99,154.48 L546.32,154.65 L546.65,154.82 L546.98,155 L547.3,155.17 L547.63,155.34 L547.96,155.52 L548.29,155.69 L548.62,155.87 L548.95,156.04 L549.27,156.22 L549.6,156.39 L549.93,156.56 L550.26,156.74 L550.59,156.91 L550.91,157.09 L551.24,157.26 L551.57,157.44 L551.9,157.61 L552.23,157.79 L552.56,157.96 L552.88,158.14 L553.21,158.31 L553.54,158.49 L553.87,158.66 L554.2,158.84 L554.52,159.01 L554.85,159.19 L555.18,159.36 L555.51,159.54 L555.84,159.72 L556.16,159.89 L556.49,160.07 L556.82,160.24 L557.15,160.42 L557.48,160.59 L557.81,160.77 L558.13,160.95 L558.46,161.12 L558.79,161.3 L559.12,161.48 L559.45,161.65 L559.77,161.83 L560.1,162 L560.43,162.18 L560.76,162.36 L561.09,162.53 L561.41,162.71 L561.74,162.89 L562.07,163.06 L562.4,163.24 L562.73,163.42 L563.06,163.59 L563.38,163.77 L563.71,163.95 L564.04,164.13 L564.37,164.3 L564.7,164.48 L565.02,164.66 L565.35,164.83 L565.68,165.01 L566.01,165.19 L566.34,165.37 L566.67,165.54 L566.99,165.72 L567.32,165.9 L567.65,166.08 L567.98,166.25 L568.31,166.43 L568.63,166.61 L568.96,166.79 L569.29,166.97 L569.62,167.14 L569.95,167.32 L570.27,167.5 L570.6,167.68 L570.93,167.86 L571.26,168.03 L571.59,168.21 L571.92,168.39 L572.24,168.57 L572.57,168.75 L572.9,168.92 L573.23,169.1 L573.56,169.28 L573.88,169.46 L574.21,169.64 L574.54,169.82 L574.87,170 L575.2,170.17 L575.52,170.35 L575.85,170.53 L576.18,170.71 L576.51,170.89 L576.84,171.07 L577.17,171.25 L577.49,171.43 L577.82,171.61 L578.15,171.78 L578.48,171.96 L578.81,172.14 L579.13,172.32 L579.46,172.5 L579.79,172.68 L580.12,172.86 L580.45,173.04 L580.78,173.22 L581.1,173.4 L581.43,173.58 L581.76,173.76 L582.09,173.94 L582.42,174.11 L582.74,174.29 L583.07,174.47 L583.4,174.65 L583.73,174.83 L584.06,175.01 L584.38,175.19 L584.71,175.37 L585.04,175.55 L585.37,175.73 L585.7,175.91 L586.03,176.09 L586.35,176.27 L586.68,176.45 L587.01,176.63 L587.34,176.81 L587.67,176.99 L587.99,177.17 L588.32,177.35 L588.65,177.53 L588.98,177.71 L589.31,177.89 L589.64,178.07 L589.96,178.25 L590.29,178.43 L590.62,178.61 L590.95,178.79 L591.28,178.97 L591.6,179.15 L591.93,179.33 L592.26,179.51 L592.59,179.69 L592.92,179.87 L593.24,180.05 L593.57,180.24 L593.9,180.42 L594.23,180.6 L594.56,180.78 L594.89,180.96 L595.21,181.14 L595.54,181.32 L595.87,181.5 L596.2,181.68 L596.53,181.86 L596.85,182.04 L597.18,182.22 L597.51,182.4 L597.84,182.58 L598.17,182.76 L598.49,182.94 L598.82,183.13 L599.15,183.31 L599.48,183.49 L599.81,183.67 L600.14,183.85 L600.46,184.03 L600.79,184.21 L601.12,184.39 L601.45,184.57 L601.78,184.75 L602.1,184.93 L602.43,185.11 L602.76,185.3 L603.09,185.48 L603.42,185.66 L603.75,185.84 L604.07,186.02 L604.4,186.2 L604.73,186.38 L605.06,186.56 L605.39,186.74 L605.71,186.92 L606.04,187.1 L606.37,187.29 L606.7,187.47 L607.03,187.65 L607.35,187.83 L607.68,188.01 L608.01,188.19 L608.34,188.37 L608.67,188.55 L609,188.73 L609.32,188.92 L609.65,189.1 L609.98,189.28 L610.31,189.46 L610.64,189.64 L610.96,189.82 L611.29,190 L611.62,190.18 L611.95,190.36 L612.28,190.55 L612.61,190.73 L612.93,190.91 L613.26,191.09 L613.59,191.27 L613.92,191.45 L614.25,191.63 L614.57,191.81 L614.9,191.99 L615.23,192.18 L615.56,192.36 L615.89,192.54 L616.21,192.72 L616.54,192.9 L616.87,193.08 L617.2,193.26 L617.53,193.44 L617.86,193.62 L618.18,193.81 L618.51,193.99 L618.84,194.17 L619.17,194.35 L619.5,194.53 L619.82,194.71 L620.15,194.89 L620.48,195.07 L620.81,195.25 L621.14,195.44 L621.46,195.62 L621.79,195.8 L622.12,195.98 L622.45,196.16 L622.78,196.34 L623.11,196.52 L623.43,196.7 L623.76,196.88 L624.09,197.06 L624.42,197.25 L624.75,197.43 L625.07,197.61 L625.4,197.79 L625.73,197.97 L626.06,198.15 L626.39,198.33 L626.72,198.51 L627.04,198.69 L627.37,198.87 L627.7,199.05 L628.03,199.24 L628.36,199.42 L628.68,199.6 L629.01,199.78 L629.34,199.96 L629.67,200.14 L630,200.32 L630.32,200.5 L630.65,200.68 L630.98,200.86 L631.31,201.04 L631.64,201.22 L631.97,201.4 L632.29,201.59 L632.62,201.77 L632.95,201.95 L633.28,202.13 L633.61,202.31 L633.93,202.49 L634.26,202.67 L634.59,202.85 L634.92,203.03 L635.25,203.21 L635.58,203.39 L635.9,203.57 L636.23,203.75 L636.56,203.93 L636.89,204.11 L637.22,204.29 L637.54,204.47 L637.87,204.65 L638.2,204.83 L638.53,205.01 L638.86,205.19 L639.18,205.37 L639.51,205.55 L639.84,205.73 L640.17,205.91 L640.5,206.09 L640.83,206.27 L641.15,206.45 L641.48,206.63 L641.81,206.81 L642.14,206.99 L642.47,207.17 L642.79,207.35 L643.12,207.53 L643.45,207.71 L643.78,207.89 L644.11,208.07 L644.43,208.25 L644.76,208.43 L645.09,208.61 L645.42,208.79 L645.75,208.97 L646.08,209.15 L646.4,209.33 L646.73,209.51 L647.06,209.69 L647.39,209.87 L647.72,210.05 L648.04,210.23 L648.37,210.41 L648.7,210.58 L649.03,210.76 L649.36,210.94 L649.69,211.12 L650.01,211.3 L650.34,211.48 L650.67,211.66 L651,211.84 L651.33,212.02 L651.65,212.2 L651.98,212.37 L652.31,212.55 L652.64,212.73 L652.97,212.91 L653.29,213.09 L653.62,213.27 L653.95,213.45 L654.28,213.63 L654.61,213.8 L654.94,213.98 L655.26,214.16 L655.59,214.34 L655.92,214.52 L656.25,214.7 L656.58,214.87 L656.9,215.05 L657.23,215.23 L657.56,215.41 L657.89,215.59 L658.22,215.77 L658.54,215.94 L658.87,216.12 L659.2,216.3 L659.53,216.48 L659.86,216.65 L660.19,216.83 L660.51,217.01 L660.84,217.19 L661.17,217.37 L661.5,217.54 L661.83,217.72 L662.15,217.9 L662.48,218.08 L662.81,218.25 L663.14,218.43 L663.47,218.61 L663.8,218.78 L664.12,218.96 L664.45,219.14 L664.78,219.32 L665.11,219.49 L665.44,219.67 L665.76,219.85 L666.09,220.02 L666.42,220.2 L666.75,220.38 L667.08,220.55 L667.4,220.73 L667.73,220.91 L668.06,221.08 L668.39,221.26 L668.72,221.44 L669.05,221.61 L669.37,221.79 L669.7,221.97 L670.03,222.14 L670.36,222.32 L670.69,222.49 L671.01,222.67 L671.34,222.85 L671.67,223.02 L672,223.2 L672.33,223.37 L672.66,223.55 L672.98,223.72 L673.31,223.9 L673.64,224.07 L673.97,224.25 L674.3,224.43 L674.62,224.6 L674.95,224.78 L675.28,224.95 L675.61,225.13 L675.94,225.3 L676.26,225.48 L676.59,225.65 L676.92,225.83 L677.25,226 L677.58,226.18 L677.91,226.35 L678.23,226.52 L678.56,226.7 L678.89,226.87 L679.22,227.05 L679.55,227.22 L679.87,227.4 L680.2,227.57 L680.53,227.75 L680.86,227.92 L681.19,228.09 L681.51,228.27 L681.84,228.44 L682.17,228.61 L682.5,228.79 L682.83,228.96 L683.16,229.14 L683.48,229.31 L683.81,229.48 L684.14,229.66 L684.47,229.83 L684.8,230 L685.12,230.17 L685.45,230.35 L685.78,230.52 L686.11,230.69 L686.44,230.87 L686.77,231.04 L687.09,231.21 L687.42,231.38 L687.75,231.56 L688.08,231.73 L688.41,231.9 L688.73,232.07 L689.06,232.25 L689.39,232.42 L689.72,232.59 L690.05,232.76 L690.37,232.93 L690.7,233.11 L691.03,233.28 L691.36,233.45 L691.69,233.62 L692.02,233.79 L692.34,233.96 L692.67,234.13 L693,234.31" stroke="#ff7f0e" stroke-dasharray="4.9 2"/>
<path d="M398,127.73 L398.33,127.67 L398.66,127.62 L398.98,127.56 L399.31,127.51 L399.64,127.45 L399.97,127.4 L400.3,127.35 L400.63,127.29 L400.95,127.24 L401.28,127.19 L401.61,127.14 L401.94,127.08 L402.27,127.03 L402.59,126.98 L402.92,126.93 L403.25,126.88 L403.58,126.83 L403.91,126.78 L404.23,126.73 L404.56,126.68 L404.89,126.63 L405.22,126.58 L405.55,126.53 L405.88,126.48 L406.2,126.43 L406.53,126.38 L406.86,126.34 L407.19,126.29 L407.52,126.24 L407.84,126.19 L408.17,126.15 L408.5,126.1 L408.83,126.05 L409.16,126.01 L409.48,125.96 L409.81,125.92 L410.14,125.87 L410.47,125.83 L410.8,125.78 L411.13,125.74 L411.45,125.69 L411.78,125.65 L412.11,125.6 L412.44,125.56 L412.77,125.52 L413.09,125.47 L413.42,125.43 L413.75,125.39 L414.08,125.35 L414.41,125.31 L414.74,125.26 L415.06,125.22 L415.39,125.18 L415.72,125.14 L416.05,125.1 L416.38,125.06 L416.7,125.02 L417.03,124.98 L417.36,124.94 L417.69,124.9 L418.02,124.86 L418.34,124.82 L418.67,124.78 L419,124.74 L419.33,124.71 L419.66,124.67 L419.99,124.63 L420.31,124.59 L420.5,124.57 L420.5,124.57 L420.64,124.56 L420.97,124.52 L421.3,124.48 L421.63,124.45 L421.95,124.41 L422.28,124.37 L422.61,124.34 L422.94,124.3 L423.27,124.27 L423.6,124.23 L423.92,124.2 L424.25,124.16 L424.58,124.13 L424.91,124.09 L425.24,124.06 L425.56,124.03 L425.89,123.99 L426.22,123.96 L426.55,123.93 L426.88,123.9 L427.2,123.86 L427.53,123.83 L427.86,123.8 L428.19,123.77 L428.52,123.74 L428.85,123.71 L429.17,123.68 L429.5,123.65 L429.83,123.61 L430.16,123.58 L430.49,123.56 L430.81,123.53 L431.14,123.5 L431.47,123.47 L431.8,123.44 L432.13,123.41 L432.45,123.38 L432.78,123.35 L433.11,123.33 L433.44,123.3 L433.77,123.27 L434.1,123.24 L434.42,123.22 L434.75,123.19 L435.08,123.16 L435.41,123.14 L435.74,123.11 L436.06,123.08 L436.39,123.06 L436.72,123.03 L437.05,123.01 L437.38,122.98 L437.71,122.96 L438.03,122.93 L438.36,122.91 L438.69,122.89 L439.02,122.86 L439.35,122.84 L439.67,122.82 L440,122.79 L440.33,122.77 L440.66,122.75 L440.99,122.73 L441.31,122.7 L441.64,122.68 L441.97,122.66 L442.3,122.64 L442.63,122.62 L442.96,122.6 L443.28,122.58 L443.61,122.56 L443.94,122.54 L444.27,122.52 L444.6,122.5 L444.92,122.48 L445.25,122.46 L445.58,122.44 L445.91,122.42 L446.24,122.4 L446.57,122.38 L446.89,122.36 L447.22,122.35 L447.55,122.33 L447.88,122.31 L448.21,122.29 L448.53,122.28 L448.86,122.26 L449.19,122.24 L449.52,122.23 L449.85,122.21 L450.17,122.19 L450.5,122.18 L450.83,122.16 L451.16,122.15 L451.49,122.13 L451.82,122.12 L452.14,122.1 L452.47,122.09 L452.8,122.07 L453.13,122.06 L453.46,122.05 L453.78,122.03 L454.1,122.02 L454.1,122.02 L454.11,122.02 L454.44,122.01 L454.77,121.99 L455.1,121.98 L455.42,121.97 L455.75,121.96 L456.08,121.94 L456.41,121.93 L456.74,121.92 L457.07,121.91 L457.39,121.9 L457.72,121.89 L458.05,121.88 L458.38,121.86 L458.71,121.85 L459.03,121.84 L459.36,121.83 L459.69,121.82 L460.02,121.81 L460.35,121.81 L460.68,121.8 L461,121.79 L461.33,121.78 L461.66,121.77 L461.99,121.76 L462.32,121.75 L462.64,121.75 L462.97,121.74 L463.3,121.73 L463.63,121.72 L463.96,121.72 L464.28,121.71 L464.61,121.7 L464.94,121.7 L465.27,121.69 L465.6,121.68 L465.93,121.68 L466.25,121.67 L466.58,121.67 L466.91,121.66 L467.24,121.66 L467.57,121.65 L467.89,121.65 L468.22,121.64 L468.55,121.64 L468.88,121.64 L469.21,121.63 L469.54,121.63 L469.86,121.63 L470.19,121.62 L470.52,121.62 L470.85,121.62 L471.18,121.61 L471.5,121.61 L471.83,121.61 L472.16,121.61 L472.49,121.61 L472.82,121.6 L473.14,121.6 L473.47,121.6 L473.8,121.6 L474.13,121.6 L474.46,121.6 L474.79,121.6 L475.11,121.6 L475.44,121.6 L475.77,121.6 L476.1,121.6 L476.43,121.6 L476.75,121.6 L477.08,121.6 L477.41,121.6 L477.74,121.6 L478.07,121.61 L478.39,121.61 L478.72,121.61 L479.05,121.61 L479.38,121.61 L479.71,121.62 L480.04,121.62 L480.36,121.62 L480.69,121.62 L481.02,121.63 L481.35,121.63 L481.68,121.63 L482,121.64 L482.33,121.64 L482.66,121.65 L482.99,121.65 L483.32,121.66 L483.65,121.66 L483.97,121.67 L484.3,121.67 L484.63,121.68 L484.96,121.68 L485.29,121.69 L485.61,121.69 L485.94,121.7 L486.27,121.71 L486.6,121.71 L486.93,121.72 L487.25,121.72 L487.58,121.73 L487.91,121.74 L488.24,121.75 L488.57,121.75 L488.9,121.76 L489.22,121.77 L489.55,121.78 L489.88,121.79 L490.21,121.79 L490.54,121.8 L490.86,121.81 L491.19,121.82 L491.52,121.83 L491.85,121.84 L492.18,121.85 L492.5,121.86 L492.83,121.87 L493.16,121.88 L493.49,121.89 L493.82,121.9 L494.15,121.91 L494.47,121.92 L494.8,121.93 L495.13,121.94 L495.46,121.95 L495.79,121.96 L496.11,121.98 L496.44,121.99 L496.77,122 L497.1,122.01 L497.43,122.02 L497.76,122.04 L498.08,122.05 L498.41,122.06 L498.74,122.08 L499.07,122.09 L499.4,122.1 L499.72,122.12 L500.05,122.13 L500.38,122.14 L500.71,122.16 L501.04,122.17 L501.36,122.19 L501.69,122.2 L502.02,122.21 L502.35,122.23 L502.68,122.24 L503.01,122.26 L503.33,122.27 L503.66,122.29 L503.99,122.31 L504.32,122.32 L504.65,122.34 L504.97,122.35 L505.3,122.37 L505.63,122.39 L505.96,122.4 L506.29,122.42 L506.62,122.44 L506.94,122.45 L507.27,122.47 L507.6,122.49 L507.93,122.51 L508.26,122.52 L508.58,122.54 L508.91,122.56 L509.24,122.58 L509.57,122.6 L509.9,122.62 L510.22,122.63 L510.55,122.65 L510.88,122.67 L511.21,122.69 L511.54,122.71 L511.87,122.73 L512.19,122.75 L512.52,122.77 L512.85,122.79 L513.18,122.81 L513.51,122.83 L513.83,122.85 L514.16,122.87 L514.49,122.89 L514.82,122.91 L515.15,122.94 L515.47,122.96 L515.8,122.98 L516.13,123 L516.46,123.02 L516.79,123.04 L517.12,123.07 L517.44,123.09 L517.77,123.11 L518.1,123.13 L518.43,123.15 L518.76,123.18 L519.08,123.2 L519.41,123.22 L519.74,123.25 L520.07,123.27 L520.4,123.29 L520.73,123.32 L521.05,123.34 L521.38,123.37 L521.71,123.39 L522.04,123.41 L522.37,123.44 L522.69,123.46 L523.02,123.49 L523.35,123.51 L523.68,123.54 L524.01,123.56 L524.33,123.59 L524.66,123.61 L524.99,123.64 L525.32,123.66 L525.65,123.69 L525.98,123.72 L526.3,123.74 L526.63,123.77 L526.96,123.8 L527.29,123.82 L527.62,123.85 L527.94,123.88 L528.27,123.9 L528.6,123.93 L528.93,123.96 L529.26,123.98 L529.59,124.01 L529.91,124.04 L530.24,124.07 L530.57,124.1 L530.9,124.12 L531.23,124.15 L531.55,124.18 L531.88,124.21 L532.21,124.24 L532.54,124.27 L532.87,124.3 L533.19,124.33 L533.52,124.35 L533.85,124.38 L534.18,124.41 L534.51,124.44 L534.84,124.47 L535.16,124.5 L535.49,124.53 L535.82,124.56 L536.15,124.59 L536.48,124.62 L536.8,124.65 L537.13,124.69 L537.46,124.72 L537.79,124.75 L538.12,124.78 L538.44,124.81 L538.77,124.84 L539.1,124.87 L539.43,124.9 L539.76,124.94 L540.09,124.97 L540.41,125 L540.74,125.03 L541.07,125.06 L541.4,125.1 L541.73,125.13 L542.05,125.16 L542.38,125.19 L542.71,125.23 L543.04,125.26 L543.37,125.29 L543.7,125.33 L544.02,125.36 L544.35,125.39 L544.68,125.43 L545.01,125.46 L545.34,125.5 L545.66,125.53 L545.99,125.56 L546.32,125.6 L546.65,125.63 L546.98,125.67 L547.3,125.7 L547.63,125.74 L547.96,125.77 L548.29,125.81 L548.62,125.84 L548.95,125.88 L549.27,125.91 L549.6,125.95 L549.93,125.98 L550.26,126.02 L550.59,126.05 L550.91,126.09 L551.24,126.13 L551.57,126.16 L551.9,126.2 L552.23,126.24 L552.56,126.27 L552.88,126.31 L553.21,126.35 L553.54,126.38 L553.87,126.42 L554.2,126.46 L554.52,126.49 L554.85,126.53 L555.18,126.57 L555.51,126.61 L555.84,126.64 L556.16,126.68 L556.49,126.72 L556.82,126.76 L557.15,126.8 L557.48,126.83 L557.81,126.87 L558.13,126.91 L558.46,126.95 L558.79,126.99 L559.12,127.03 L559.45,127.07 L559.77,127.11 L560.1,127.14 L560.43,127.18 L560.76,127.22 L561.09,127.26 L561.41,127.3 L561.74,127.34 L562.07,127.38 L562.4,127.42 L562.73,127.46 L563.06,127.5 L563.38,127.54 L563.71,127.58 L564.04,127.62 L564.37,127.66 L564.7,127.7 L565.02,127.75 L565.35,127.79 L565.68,127.83 L566.01,127.87 L566.34,127.91 L566.67,127.95 L566.99,127.99 L567.32,128.03 L567.65,128.08 L567.98,128.12 L568.31,128.16 L568.63,128.2 L568.96,128.24 L569.29,128.28 L569.62,128.33 L569.95,128.37 L570.27,128.41 L570.6,128.45 L570.93,128.5 L571.26,128.54 L571.59,128.58 L571.92,128.62 L572.24,128.67 L572.57,128.71 L572.9,128.75 L573.23,128.8 L573.56,128.84 L573.88,128.88 L574.21,128.93 L574.54,128.97 L574.87,129.01 L575.2,129.06 L575.52,129.1 L575.85,129.15 L576.18,129.19 L576.51,129.23 L576.84,129.28 L577.17,129.32 L577.49,129.37 L577.82,129.41 L578.15,129.46 L578.48,129.5 L578.81,129.55 L579.13,129.59 L579.46,129.64 L579.79,129.68 L580.12,129.73 L580.45,129.77 L580.78,129.82 L581.1,129.86 L581.43,129.91 L581.76,129.95 L582.09,130 L582.42,130.05 L582.74,130.09 L583.07,130.14 L583.4,130.18 L583.73,130.23 L584.06,130.28 L584.38,130.32 L584.71,130.37 L585.04,130.42 L585.37,130.46 L585.7,130.51 L586.03,130.56 L586.35,130.6 L586.68,130.65 L587.01,130.7 L587.34,130.74 L587.67,130.79 L587.99,130.84 L588.32,130.88 L588.65,130.93 L588.98,130.98 L589.31,131.03 L589.64,131.07 L589.96,131.12 L590.29,131.17 L590.62,131.22 L590.95,131.27 L591.28,131.31 L591.6,131.36 L591.93,131.41 L592.26,131.46 L592.59,131.51 L592.92,131.55 L593.24,131.6 L593.57,131.65 L593.9,131.7 L594.23,131.75 L594.56,131.8 L594.89,131.85 L595.21,131.9 L595.54,131.94 L595.87,131.99 L596.2,132.04 L596.53,132.09 L596.85,132.14 L597.18,132.19 L597.51,132.24 L597.84,132.29 L598.17,132.34 L598.49,132.39 L598.82,132.44 L599.15,132.49 L599.48,132.54 L599.81,132.59 L600.14,132.64 L600.46,132.69 L600.79,132.74 L601.12,132.79 L601.45,132.84 L601.78,132.89 L602.1,132.94 L602.43,132.99 L602.76,133.04 L603.09,133.09 L603.42,133.14 L603.75,133.19 L604.07,133.24 L604.4,133.29 L604.73,133.34 L605.06,133.4 L605.39,133.45 L605.71,133.5 L606.04,133.55 L606.37,133.6 L606.7,133.65 L607.03,133.7 L607.35,133.75 L607.68,133.81 L608.01,133.86 L608.34,133.91 L608.67,133.96 L609,134.01 L609.32,134.06 L609.65,134.12 L609.98,134.17 L610.31,134.22 L610.64,134.27 L610.96,134.32 L611.29,134.38 L611.62,134.43 L611.95,134.48 L612.28,134.53 L612.61,134.58 L612.93,134.64 L613.26,134.69 L613.59,134.74 L613.92,134.79 L614.25,134.85 L614.57,134.9 L614.9,134.95 L615.23,135 L615.56,135.06 L615.89,135.11 L616.21,135.16 L616.54,135.22 L616.87,135.27 L617.2,135.32 L617.53,135.38 L617.86,135.43 L618.18,135.48 L618.51,135.54 L618.84,135.59 L619.17,135.64 L619.5,135.7 L619.82,135.75 L620.15,135.8 L620.48,135.86 L620.81,135.91 L621.14,135.96 L621.46,136.02 L621.79,136.07 L622.12,136.12 L622.45,136.18 L622.78,136.23 L623.11,136.29 L623.43,136.34 L623.76,136.39 L624.09,136.45 L624.42,136.5 L624.75,136.56 L625.07,136.61 L625.4,136.67 L625.73,136.72 L626.06,136.77 L626.39,136.83 L626.72,136.88 L627.04,136.94 L627.37,136.99 L627.7,137.05 L628.03,137.1 L628.36,137.16 L628.68,137.21 L629.01,137.26 L629.34,137.32 L629.67,137.37 L630,137.43 L630.32,137.48 L630.65,137.54 L630.98,137.59 L631.31,137.65 L631.64,137.7 L631.97,137.76 L632.29,137.81 L632.62,137.87 L632.95,137.92 L633.28,137.98 L633.61,138.03 L633.93,138.09 L634.26,138.14 L634.59,138.2 L634.92,138.26 L635.25,138.31 L635.58,138.37 L635.9,138.42 L636.23,138.48 L636.56,138.53 L636.89,138.59 L637.22,138.64 L637.54,138.7 L637.87,138.75 L638.2,138.81 L638.53,138.87 L638.86,138.92 L639.18,138.98 L639.51,139.03 L639.84,139.09 L640.17,139.15 L640.5,139.2 L640.83,139.26 L641.15,139.31 L641.48,139.37 L641.81,139.42 L642.14,139.48 L642.47,139.54 L642.79,139.59 L643.12,139.65 L643.45,139.7 L643.78,139.76 L644.11,139.82 L644.43,139.87 L644.76,139.93 L645.09,139.99 L645.42,140.04 L645.75,140.1 L646.08,140.15 L646.4,140.21 L646.73,140.27 L647.06,140.32 L647.39,140.38 L647.72,140.44 L648.04,140.49 L648.37,140.55 L648.7,140.61 L649.03,140.66 L649.36,140.72 L649.69,140.77 L650.01,140.83 L650.34,140.89 L650.67,140.94 L651,141 L651.33,141.06 L651.65,141.11 L651.98,141.17 L652.31,141.23 L652.64,141.28 L652.97,141.34 L653.29,141.4 L653.62,141.45 L653.95,141.51 L654.28,141.57 L654.61,141.62 L654.94,141.68 L655.26,141.74 L655.59,141.79 L655.92,141.85 L656.25,141.91 L656.58,141.96 L656.9,142.02 L657.23,142.08 L657.56,142.13 L657.89,142.19 L658.22,142.25 L658.54,142.31 L658.87,142.36 L659.2,142.42 L659.53,142.48 L659.86,142.53 L660.19,142.59 L660.51,142.65 L660.84,142.7 L661.17,142.76 L661.5,142.82 L661.83,142.87 L662.15,142.93 L662.48,142.99 L662.81,143.05 L663.14,143.1 L663.47,143.16 L663.8,143.22 L664.12,143.27 L664.45,143.33 L664.78,143.39 L665.11,143.44 L665.44,143.5 L665.76,143.56 L666.09,143.61 L666.42,143.67 L666.75,143.73 L667.08,143.79 L667.4,143.84 L667.73,143.9 L668.06,143.96 L668.39,144.01 L668.72,144.07 L669.05,144.13 L669.37,144.18 L669.7,144.24 L670.03,144.3 L670.36,144.36 L670.69,144.41 L671.01,144.47 L671.34,144.53 L671.67,144.58 L672,144.64 L672.33,144.7 L672.66,144.75 L672.98,144.81 L673.31,144.87 L673.64,144.93 L673.97,144.98 L674.3,145.04 L674.62,145.1 L674.95,145.15 L675.28,145.21 L675.61,145.27 L675.94,145.32 L676.26,145.38 L676.59,145.44 L676.92,145.49 L677.25,145.55 L677.58,145.61 L677.91,145.66 L678.23,145.72 L678.56,145.78 L678.89,145.83 L679.22,145.89 L679.55,145.95 L679.87,146 L680.2,146.06 L680.53,146.12 L680.86,146.18 L681.19,146.23 L681.51,146.29 L681.84,146.35 L682.17,146.4 L682.5,146.46 L682.83,146.51 L683.16,146.57 L683.48,146.63 L683.81,146.68 L684.14,146.74 L684.47,146.8 L684.8,146.85 L685.12,146.91 L685.45,146.97 L685.78,147.02 L686.11,147.08 L686.44,147.14 L686.77,147.19 L687.09,147.25 L687.42,147.31 L687.75,147.36 L688.08,147.42 L688.41,147.47 L688.73,147.53 L689.06,147.59 L689.39,147.64 L689.72,147.7 L690.05,147.76 L690.37,147.81 L690.7,147.87 L691.03,147.92 L691.36,147.98 L691.69,148.04 L692.02,148.09 L692.34,148.15 L692.67,148.2 L693,148.26" stroke="#1e9a1e" stroke-dasharray="4.9 2"/>
<path d="M398,38.6 L398.33,38.83 L398.66,39.06 L398.98,39.3 L399.31,39.53 L399.64,39.76 L399.97,39.99 L400.3,40.22 L400.63,40.46 L400.95,40.69 L401.28,40.92 L401.61,41.15 L401.94,41.38 L402.27,41.61 L402.59,41.85 L402.92,42.08 L403.25,42.31 L403.58,42.54 L403.91,42.77 L404.23,43.01 L404.56,43.24 L404.89,43.47 L405.22,43.7 L405.55,43.93 L405.88,44.17 L406.2,44.4 L406.53,44.63 L406.86,44.86 L407.19,45.09 L407.52,45.32 L407.84,45.56 L408.17,45.79 L408.5,46.02 L408.83,46.25 L409.16,46.48 L409.48,46.72 L409.81,46.95 L410.14,47.18 L410.47,47.41 L410.8,47.64 L411.13,47.88 L411.45,48.11 L411.78,48.34 L412.11,48.57 L412.44,48.8 L412.77,49.03 L413.09,49.27 L413.42,49.5 L413.75,49.73 L414.08,49.96 L414.41,50.19 L414.74,50.43 L415.06,50.66 L415.39,50.89 L415.72,51.12 L416.05,51.35 L416.38,51.59 L416.7,51.82 L417.03,52.05 L417.36,52.28 L417.69,52.51 L418.02,52.75 L418.34,52.98 L418.67,53.21 L419,53.44 L419.33,53.67 L419.66,53.9 L419.99,54.14 L420.31,54.37 L420.5,54.5 L420.5,51.51 L420.64,51.62 L420.97,51.87 L421.3,52.12 L421.63,52.37 L421.95,52.62 L422.28,52.87 L422.61,53.12 L422.94,53.37 L423.27,53.62 L423.6,53.87 L423.92,54.12 L424.25,54.38 L424.58,54.63 L424.91,54.88 L425.24,55.13 L425.56,55.38 L425.89,55.63 L426.22,55.88 L426.55,56.13 L426.88,56.38 L427.2,56.63 L427.53,56.88 L427.86,57.13 L428.19,57.38 L428.52,57.63 L428.85,57.88 L429.17,58.13 L429.5,58.39 L429.83,58.64 L430.16,58.89 L430.49,59.14 L430.81,59.39 L431.14,59.64 L431.47,59.89 L431.8,60.14 L432.13,60.39 L432.45,60.64 L432.78,60.89 L433.11,61.14 L433.44,61.39 L433.77,61.64 L434.1,61.89 L434.42,62.14 L434.75,62.4 L435.08,62.65 L435.41,62.9 L435.74,63.15 L436.06,63.4 L436.39,63.65 L436.72,63.9 L437.05,64.15 L437.38,64.4 L437.71,64.65 L438.03,64.9 L438.36,65.15 L438.69,65.4 L439.02,65.65 L439.35,65.9 L439.67,66.15 L440,66.41 L440.33,66.66 L440.66,66.91 L440.99,67.16 L441.31,67.41 L441.64,67.66 L441.97,67.91 L442.3,68.16 L442.63,68.41 L442.96,68.66 L443.28,68.91 L443.61,69.16 L443.94,69.41 L444.27,69.66 L444.6,69.91 L444.92,70.16 L445.25,70.42 L445.58,70.67 L445.91,70.92 L446.24,71.17 L446.57,71.42 L446.89,71.67 L447.22,71.92 L447.55,72.17 L447.88,72.42 L448.21,72.67 L448.53,72.92 L448.86,73.17 L449.19,73.42 L449.52,73.67 L449.85,73.92 L450.17,74.17 L450.5,74.43 L450.83,74.68 L451.16,74.93 L451.49,75.18 L451.82,75.43 L452.14,75.68 L452.47,75.93 L452.8,76.18 L453.13,76.43 L453.46,76.68 L453.78,76.93 L454.1,77.17 L454.1,65.19 L454.11,65.2 L454.44,65.42 L454.77,65.64 L455.1,65.87 L455.42,66.1 L455.75,66.32 L456.08,66.55 L456.41,66.78 L456.74,67.01 L457.07,67.23 L457.39,67.46 L457.72,67.69 L458.05,67.93 L458.38,68.16 L458.71,68.39 L459.03,68.62 L459.36,68.86 L459.69,69.09 L460.02,69.32 L460.35,69.56 L460.68,69.8 L461,70.03 L461.33,70.27 L461.66,70.51 L461.99,70.75 L462.32,70.98 L462.64,71.22 L462.97,71.46 L463.3,71.7 L463.63,71.94 L463.96,72.19 L464.28,72.43 L464.61,72.67 L464.94,72.91 L465.27,73.16 L465.6,73.4 L465.93,73.65 L466.25,73.89 L466.58,74.14 L466.91,74.38 L467.24,74.63 L467.57,74.88 L467.89,75.13 L468.22,75.37 L468.55,75.62 L468.88,75.87 L469.21,76.12 L469.54,76.37 L469.86,76.62 L470.19,76.87 L470.52,77.12 L470.85,77.37 L471.18,77.63 L471.5,77.88 L471.83,78.13 L472.16,78.39 L472.49,78.64 L472.82,78.89 L473.14,79.15 L473.47,79.4 L473.8,79.66 L474.13,79.91 L474.46,80.17 L474.79,80.43 L475.11,80.68 L475.44,80.94 L475.77,81.2 L476.1,81.46 L476.43,81.71 L476.75,81.97 L477.08,82.23 L477.41,82.49 L477.74,82.75 L478.07,83.01 L478.39,83.27 L478.72,83.53 L479.05,83.79 L479.38,84.05 L479.71,84.31 L480.04,84.58 L480.36,84.84 L480.69,85.1 L481.02,85.36 L481.35,85.63 L481.68,85.89 L482,86.15 L482.33,86.42 L482.66,86.68 L482.99,86.94 L483.32,87.21 L483.65,87.47 L483.97,87.74 L484.3,88 L484.63,88.27 L484.96,88.53 L485.29,88.8 L485.61,89.07 L485.94,89.33 L486.27,89.6 L486.6,89.87 L486.93,90.13 L487.25,90.4 L487.58,90.67 L487.91,90.93 L488.24,91.2 L488.57,91.47 L488.9,91.74 L489.22,92.01 L489.55,92.27 L489.88,92.54 L490.21,92.81 L490.54,93.08 L490.86,93.35 L491.19,93.62 L491.52,93.89 L491.85,94.16 L492.18,94.43 L492.5,94.7 L492.83,94.97 L493.16,95.24 L493.49,95.51 L493.82,95.78 L494.15,96.05 L494.47,96.32 L494.8,96.59 L495.13,96.86 L495.46,97.13 L495.79,97.4 L496.11,97.67 L496.44,97.94 L496.77,98.21 L497.1,98.48 L497.43,98.75 L497.76,99.02 L498.08,99.29 L498.41,99.57 L498.74,99.84 L499.07,100.11 L499.4,100.38 L499.72,100.65 L500.05,100.92 L500.38,101.19 L500.71,101.46 L501.04,101.74 L501.36,102.01 L501.69,102.28 L502.02,102.55 L502.35,102.82 L502.68,103.09 L503.01,103.37 L503.33,103.64 L503.66,103.91 L503.99,104.18 L504.32,104.45 L504.65,104.72 L504.97,104.99 L505.3,105.27 L505.63,105.54 L505.96,105.81 L506.29,106.08 L506.62,106.35 L506.94,106.62 L507.27,106.89 L507.6,107.17 L507.93,107.44 L508.26,107.71 L508.58,107.98 L508.91,108.25 L509.24,108.52 L509.57,108.79 L509.9,109.06 L510.22,109.33 L510.55,109.6 L510.88,109.87 L511.21,110.14 L511.54,110.41 L511.87,110.68 L512.19,110.96 L512.52,111.23 L512.85,111.5 L513.18,111.77 L513.51,112.03 L513.83,112.3 L514.16,112.57 L514.49,112.84 L514.82,113.11 L515.15,113.38 L515.47,113.65 L515.8,113.92 L516.13,114.19 L516.46,114.46 L516.79,114.73 L517.12,114.99 L517.44,115.26 L517.77,115.53 L518.1,115.8 L518.43,116.07 L518.76,116.33 L519.08,116.6 L519.41,116.87 L519.74,117.14 L520.07,117.4 L520.4,117.67 L520.73,117.94 L521.05,118.2 L521.38,118.47 L521.71,118.74 L522.04,119 L522.37,119.27 L522.69,119.53 L523.02,119.8 L523.35,120.06 L523.68,120.33 L524.01,120.59 L524.33,120.86 L524.66,121.12 L524.99,121.39 L525.32,121.65 L525.65,121.91 L525.98,122.18 L526.3,122.44 L526.63,122.7 L526.96,122.97 L527.29,123.23 L527.62,123.49 L527.94,123.75 L528.27,124.02 L528.6,124.28 L528.93,124.54 L529.26,124.8 L529.59,125.06 L529.91,125.32 L530.24,125.58 L530.57,125.84 L530.9,126.1 L531.23,126.36 L531.55,126.62 L531.88,126.88 L532.21,127.14 L532.54,127.4 L532.87,127.66 L533.19,127.91 L533.52,128.17 L533.85,128.43 L534.18,128.69 L534.51,128.94 L534.84,129.2 L535.16,129.46 L535.49,129.71 L535.82,129.97 L536.15,130.22 L536.48,130.48 L536.8,130.73 L537.13,130.99 L537.46,131.24 L537.79,131.5 L538.12,131.75 L538.44,132 L538.77,132.26 L539.1,132.51 L539.43,132.76 L539.76,133.01 L540.09,133.27 L540.41,133.52 L540.74,133.77 L541.07,134.02 L541.4,134.27 L541.73,134.52 L542.05,134.77 L542.38,135.02 L542.71,135.27 L543.04,135.52 L543.37,135.77 L543.7,136.01 L544.02,136.26 L544.35,136.51 L544.68,136.76 L545.01,137 L545.34,137.25 L545.66,137.5 L545.99,137.74 L546.32,137.99 L546.65,138.23 L546.98,138.48 L547.3,138.72 L547.63,138.97 L547.96,139.21 L548.29,139.45 L548.62,139.7 L548.95,139.94 L549.27,140.18 L549.6,140.42 L549.93,140.66 L550.26,140.9 L550.59,141.15 L550.91,141.39 L551.24,141.63 L551.57,141.87 L551.9,142.1 L552.23,142.34 L552.56,142.58 L552.88,142.82 L553.21,143.06 L553.54,143.29 L553.87,143.53 L554.2,143.77 L554.52,144 L554.85,144.24 L555.18,144.48 L555.51,144.71 L555.84,144.94 L556.16,145.18 L556.49,145.41 L556.82,145.65 L557.15,145.88 L557.48,146.11 L557.81,146.34 L558.13,146.58 L558.46,146.81 L558.79,147.04 L559.12,147.27 L559.45,147.5 L559.77,147.73 L560.1,147.96 L560.43,148.19 L560.76,148.41 L561.09,148.64 L561.41,148.87 L561.74,149.1 L562.07,149.32 L562.4,149.55 L562.73,149.78 L563.06,150 L563.38,150.23 L563.71,150.45 L564.04,150.68 L564.37,150.9 L564.7,151.12 L565.02,151.35 L565.35,151.57 L565.68,151.79 L566.01,152.01 L566.34,152.23 L566.67,152.45 L566.99,152.67 L567.32,152.89 L567.65,153.11 L567.98,153.33 L568.31,153.55 L568.63,153.77 L568.96,153.99 L569.29,154.2 L569.62,154.42 L569.95,154.64 L570.27,154.85 L570.6,155.07 L570.93,155.28 L571.26,155.5 L571.59,155.71 L571.92,155.93 L572.24,156.14 L572.57,156.35 L572.9,156.56 L573.23,156.78 L573.56,156.99 L573.88,157.2 L574.21,157.41 L574.54,157.62 L574.87,157.83 L575.2,158.04 L575.52,158.25 L575.85,158.46 L576.18,158.66 L576.51,158.87 L576.84,159.08 L577.17,159.29 L577.49,159.49 L577.82,159.7 L578.15,159.9 L578.48,160.11 L578.81,160.31 L579.13,160.52 L579.46,160.72 L579.79,160.92 L580.12,161.12 L580.45,161.33 L580.78,161.53 L581.1,161.73 L581.43,161.93 L581.76,162.13 L582.09,162.33 L582.42,162.53 L582.74,162.73 L583.07,162.93 L583.4,163.12 L583.73,163.32 L584.06,163.52 L584.38,163.72 L584.71,163.91 L585.04,164.11 L585.37,164.3 L585.7,164.5 L586.03,164.69 L586.35,164.89 L586.68,165.08 L587.01,165.27 L587.34,165.46 L587.67,165.66 L587.99,165.85 L588.32,166.04 L588.65,166.23 L588.98,166.42 L589.31,166.61 L589.64,166.8 L589.96,166.99 L590.29,167.18 L590.62,167.36 L590.95,167.55 L591.28,167.74 L591.6,167.93 L591.93,168.11 L592.26,168.3 L592.59,168.48 L592.92,168.67 L593.24,168.85 L593.57,169.04 L593.9,169.22 L594.23,169.4 L594.56,169.58 L594.89,169.77 L595.21,169.95 L595.54,170.13 L595.87,170.31 L596.2,170.49 L596.53,170.67 L596.85,170.85 L597.18,171.03 L597.51,171.21 L597.84,171.39 L598.17,171.56 L598.49,171.74 L598.82,171.92 L599.15,172.09 L599.48,172.27 L599.81,172.44 L600.14,172.62 L600.46,172.79 L600.79,172.97 L601.12,173.14 L601.45,173.31 L601.78,173.49 L602.1,173.66 L602.43,173.83 L602.76,174 L603.09,174.17 L603.42,174.34 L603.75,174.51 L604.07,174.68 L604.4,174.85 L604.73,175.02 L605.06,175.19 L605.39,175.36 L605.71,175.53 L606.04,175.69 L606.37,175.86 L606.7,176.03 L607.03,176.19 L607.35,176.36 L607.68,176.52 L608.01,176.69 L608.34,176.85 L608.67,177.02 L609,177.18 L609.32,177.34 L609.65,177.5 L609.98,177.67 L610.31,177.83 L610.64,177.99 L610.96,178.15 L611.29,178.31 L611.62,178.47 L611.95,178.63 L612.28,178.79 L612.61,178.95 L612.93,179.11 L613.26,179.27 L613.59,179.42 L613.92,179.58 L614.25,179.74 L614.57,179.89 L614.9,180.05 L615.23,180.21 L615.56,180.36 L615.89,180.52 L616.21,180.67 L616.54,180.82 L616.87,180.98 L617.2,181.13 L617.53,181.28 L617.86,181.44 L618.18,181.59 L618.51,181.74 L618.84,181.89 L619.17,182.04 L619.5,182.19 L619.82,182.34 L620.15,182.49 L620.48,182.64 L620.81,182.79 L621.14,182.94 L621.46,183.09 L621.79,183.24 L622.12,183.38 L622.45,183.53 L622.78,183.68 L623.11,183.83 L623.43,183.97 L623.76,184.12 L624.09,184.26 L624.42,184.41 L624.75,184.55 L625.07,184.7 L625.4,184.84 L625.73,184.99 L626.06,185.13 L626.39,185.27 L626.72,185.41 L627.04,185.56 L627.37,185.7 L627.7,185.84 L628.03,185.98 L628.36,186.12 L628.68,186.26 L629.01,186.4 L629.34,186.54 L629.67,186.68 L630,186.82 L630.32,186.96 L630.65,187.1 L630.98,187.24 L631.31,187.38 L631.64,187.52 L631.97,187.65 L632.29,187.79 L632.62,187.93 L632.95,188.07 L633.28,188.2 L633.61,188.34 L633.93,188.47 L634.26,188.61 L634.59,188.74 L634.92,188.88 L635.25,189.01 L635.58,189.15 L635.9,189.28 L636.23,189.42 L636.56,189.55 L636.89,189.68 L637.22,189.82 L637.54,189.95 L637.87,190.08 L638.2,190.21 L638.53,190.34 L638.86,190.48 L639.18,190.61 L639.51,190.74 L639.84,190.87 L640.17,191 L640.5,191.13 L640.83,191.26 L641.15,191.39 L641.48,191.52 L641.81,191.65 L642.14,191.78 L642.47,191.91 L642.79,192.04 L643.12,192.16 L643.45,192.29 L643.78,192.42 L644.11,192.55 L644.43,192.68 L644.76,192.8 L645.09,192.93 L645.42,193.06 L645.75,193.18 L646.08,193.31 L646.4,193.44 L646.73,193.56 L647.06,193.69 L647.39,193.81 L647.72,193.94 L648.04,194.07 L648.37,194.19 L648.7,194.32 L649.03,194.44 L649.36,194.56 L649.69,194.69 L650.01,194.81 L650.34,194.94 L650.67,195.06 L651,195.19 L651.33,195.31 L651.65,195.43 L651.98,195.56 L652.31,195.68 L652.64,195.8 L652.97,195.92 L653.29,196.05 L653.62,196.17 L653.95,196.29 L654.28,196.41 L654.61,196.54 L654.94,196.66 L655.26,196.78 L655.59,196.9 L655.92,197.02 L656.25,197.15 L656.58,197.27 L656.9,197.39 L657.23,197.51 L657.56,197.63 L657.89,197.75 L658.22,197.87 L658.54,197.99 L658.87,198.11 L659.2,198.23 L659.53,198.35 L659.86,198.48 L660.19,198.6 L660.51,198.72 L660.84,198.84 L661.17,198.96 L661.5,199.08 L661.83,199.2 L662.15,199.32 L662.48,199.44 L662.81,199.56 L663.14,199.68 L663.47,199.8 L663.8,199.92 L664.12,200.04 L664.45,200.16 L664.78,200.28 L665.11,200.39 L665.44,200.51 L665.76,200.63 L666.09,200.75 L666.42,200.87 L666.75,200.99 L667.08,201.11 L667.4,201.23 L667.73,201.35 L668.06,201.47 L668.39,201.59 L668.72,201.71 L669.05,201.83 L669.37,201.95 L669.7,202.07 L670.03,202.19 L670.36,202.31 L670.69,202.43 L671.01,202.55 L671.34,202.67 L671.67,202.79 L672,202.91 L672.33,203.03 L672.66,203.15 L672.98,203.27 L673.31,203.39 L673.64,203.51 L673.97,203.63 L674.3,203.75 L674.62,203.87 L674.95,203.99 L675.28,204.11 L675.61,204.23 L675.94,204.35 L676.26,204.48 L676.59,204.6 L676.92,204.72 L677.25,204.84 L677.58,204.96 L677.91,205.08 L678.23,205.2 L678.56,205.33 L678.89,205.45 L679.22,205.57 L679.55,205.69 L679.87,205.81 L680.2,205.94 L680.53,206.06 L680.86,206.18 L681.19,206.31 L681.51,206.43 L681.84,206.55 L682.17,206.68 L682.5,206.8 L682.83,206.92 L683.16,207.05 L683.48,207.17 L683.81,207.3 L684.14,207.42 L684.47,207.55 L684.8,207.67 L685.12,207.8 L685.45,207.92 L685.78,208.05 L686.11,208.18 L686.44,208.3 L686.77,208.43 L687.09,208.56 L687.42,208.68 L687.75,208.81 L688.08,208.94 L688.41,209.07 L688.73,209.19 L689.06,209.32 L689.39,209.45 L689.72,209.58 L690.05,209.71 L690.37,209.84 L690.7,209.97 L691.03,210.1 L691.36,210.23 L691.69,210.36 L692.02,210.49 L692.34,210.62 L692.67,210.75 L693,210.89" stroke="#d41414" stroke-dasharray="4.9 2"/>
<path d="M604.2,300 L604.2,202.3 L611.98,183.48 L624.27,169.91 L625.2,169.16 L641.58,159.05 L653.87,153.87 L663.4,150.72 L671.18,148.56 L677.77,146.98 L683.47,145.78 L688.5,144.83 L693,144.07" stroke="#8c55c4" stroke-dasharray="4.9 2"/>
<path d="M641.58,300 L641.58,234.3 L653.87,217.41 L663.4,208.83 L671.18,203.54 L677.77,199.89 L683.47,197.18 L688.5,195.1 L693,193.44" stroke="#864840" stroke-dasharray="4.9 2"/>
</g>
<rect x="398" y="15" width="295" height="220" fill="none" stroke="#000" stroke-width="0.8"/>
<path d="M398,235v-3.1M398,15v3.1M427.6,235v-1.8M427.6,15v1.8M444.92,235v-1.8M444.92,15v1.8M457.2,235v-1.8M457.2,15v1.8M466.73,235v-1.8M466.73,15v1.8M474.52,235v-1.8M474.52,15v1.8M481.1,235v-1.8M481.1,15v1.8M486.8,235v-1.8M486.8,15v1.8M491.83,235v-1.8M491.83,15v1.8M496.33,235v-3.1M496.33,15v3.1M525.93,235v-1.8M525.93,15v1.8M543.25,235v-1.8M543.25,15v1.8M555.54,235v-1.8M555.54,15v1.8M565.07,235v-1.8M565.07,15v1.8M572.85,235v-1.8M572.85,15v1.8M579.43,235v-1.8M579.43,15v1.8M585.14,235v-1.8M585.14,15v1.8M590.17,235v-1.8M590.17,15v1.8M594.67,235v-3.1M594.67,15v3.1M624.27,235v-1.8M624.27,15v1.8M641.58,235v-1.8M641.58,15v1.8M653.87,235v-1.8M653.87,15v1.8M663.4,235v-1.8M663.4,15v1.8M671.18,235v-1.8M671.18,15v1.8M677.77,235v-1.8M677.77,15v1.8M683.47,235v-1.8M683.47,15v1.8M688.5,235v-1.8M688.5,15v1.8M693,235v-3.1M693,15v3.1M398,235h3.1M693,235h-3.1M398,226.72h1.8M693,226.72h-1.8M398,221.88h1.8M693,221.88h-1.8M398,218.44h1.8M693,218.44h-1.8M398,215.78h1.8M693,215.78h-1.8M398,213.6h1.8M693,213.6h-1.8M398,211.76h1.8M693,211.76h-1.8M398,210.17h1.8M693,210.17h-1.8M398,208.76h1.8M693,208.76h-1.8M398,207.5h3.1M693,207.5h-3.1M398,199.22h1.8M693,199.22h-1.8M398,194.38h1.8M693,194.38h-1.8M398,190.94h1.8M693,190.94h-1.8M398,188.28h1.8M693,188.28h-1.8M398,186.1h1.8M693,186.1h-1.8M398,184.26h1.8M693,184.26h-1.8M398,182.67h1.8M693,182.67h-1.8M398,181.26h1.8M693,181.26h-1.8M398,180h3.1M693,180h-3.1M398,171.72h1.8M693,171.72h-1.8M398,166.88h1.8M693,166.88h-1.8M398,163.44h1.8M693,163.44h-1.8M398,160.78h1.8M693,160.78h-1.8M398,158.6h1.8M693,158.6h-1.8M398,156.76h1.8M693,156.76h-1.8M398,155.17h1.8M693,155.17h-1.8M398,153.76h1.8M693,153.76h-1.8M398,152.5h3.1M693,152.5h-3.1M398,144.22h1.8M693,144.22h-1.8M398,139.38h1.8M693,139.38h-1.8M398,135.94h1.8M693,135.94h-1.8M398,133.28h1.8M693,133.28h-1.8M398,131.1h1.8M693,131.1h-1.8M398,129.26h1.8M693,129.26h-1.8M398,127.67h1.8M693,127.67h-1.8M398,126.26h1.8M693,126.26h-1.8M398,125h3.1M693,125h-3.1M398,116.72h1.8M693,116.72h-1.8M398,111.88h1.8M693,111.88h-1.8M398,108.44h1.8M693,108.44h-1.8M398,105.78h1.8M693,105.78h-1.8M398,103.6h1.8M693,103.6h-1.8M398,101.76h1.8M693,101.76h-1.8M398,100.17h1.8M693,100.17h-1.8M398,98.76h1.8M693,98.76h-1.8M398,97.5h3.1M693,97.5h-3.1M398,89.22h1.8M693,89.22h-1.8M398,84.38h1.8M693,84.38h-1.8M398,80.94h1.8M693,80.94h-1.8M398,78.28h1.8M693,78.28h-1.8M398,76.1h1.8M693,76.1h-1.8M398,74.26h1.8M693,74.26h-1.8M398,72.67h1.8M693,72.67h-1.8M398,71.26h1.8M693,71.26h-1.8M398,70h3.1M693,70h-3.1M398,61.72h1.8M693,61.72h-1.8M398,56.88h1.8M693,56.88h-1.8M398,53.44h1.8M693,53.44h-1.8M398,50.78h1.8M693,50.78h-1.8M398,48.6h1.8M693,48.6h-1.8M398,46.76h1.8M693,46.76h-1.8M398,45.17h1.8M693,45.17h-1.8M398,43.76h1.8M693,43.76h-1.8M398,42.5h3.1M693,42.5h-3.1M398,34.22h1.8M693,34.22h-1.8M398,29.38h1.8M693,29.38h-1.8M398,25.94h1.8M693,25.94h-1.8M398,23.28h1.8M693,23.28h-1.8M398,21.1h1.8M693,21.1h-1.8M398,19.26h1.8M693,19.26h-1.8M398,17.67h1.8M693,17.67h-1.8M398,16.26h1.8M693,16.26h-1.8M398,15h3.1M693,15h-3.1" stroke="#000" stroke-width="0.7" fill="none"/>
<text class="tk" x="393.7" y="238.7" text-anchor="end">10<tspan class="sp" dx="0.9" dy="-3.4">−5</tspan></text>
<text class="tk" x="393.7" y="211.2" text-anchor="end">10<tspan class="sp" dx="0.9" dy="-3.4">−4</tspan></text>
<text class="tk" x="393.7" y="183.7" text-anchor="end">10<tspan class="sp" dx="0.9" dy="-3.4">−3</tspan></text>
<text class="tk" x="393.7" y="156.2" text-anchor="end">10<tspan class="sp" dx="0.9" dy="-3.4">−2</tspan></text>
<text class="tk" x="393.7" y="128.7" text-anchor="end">10<tspan class="sp" dx="0.9" dy="-3.4">−1</tspan></text>
<text class="tk" x="393.7" y="101.2" text-anchor="end">10<tspan class="sp" dx="0.9" dy="-3.4">0</tspan></text>
<text class="tk" x="393.7" y="73.7" text-anchor="end">10<tspan class="sp" dx="0.9" dy="-3.4">1</tspan></text>
<text class="tk" x="393.7" y="46.2" text-anchor="end">10<tspan class="sp" dx="0.9" dy="-3.4">2</tspan></text>
<text class="tk" x="393.7" y="18.7" text-anchor="end">10<tspan class="sp" dx="0.9" dy="-3.4">3</tspan></text>
<text class="tk" x="398" y="246.4" text-anchor="middle">10<tspan class="sp" dx="0.9" dy="-3.4">−2</tspan></text>
<text class="tk" x="496.33" y="246.4" text-anchor="middle">10<tspan class="sp" dx="0.9" dy="-3.4">−1</tspan></text>
<text class="tk" x="594.67" y="246.4" text-anchor="middle">10<tspan class="sp" dx="0.9" dy="-3.4">0</tspan></text>
<text class="tk" x="693" y="246.4" text-anchor="middle">10<tspan class="sp" dx="0.9" dy="-3.4">1</tspan></text>
<path d="M555.4,25.7h16.6" stroke="#1a70b2" stroke-width="1.5" stroke-linecap="square"/>
<text class="lg" x="579" y="29">Total attenuation</text>
<path d="M555.4,38.14h16.6" stroke="#ff7f0e" stroke-width="1.5" stroke-dasharray="4.9 2"/>
<text class="lg" x="579" y="41.44">Coherent scattering</text>
<path d="M555.4,50.58h16.6" stroke="#1e9a1e" stroke-width="1.5" stroke-dasharray="4.9 2"/>
<text class="lg" x="579" y="53.88">Incoherent scattering</text>
<path d="M555.4,63.02h16.6" stroke="#d41414" stroke-width="1.5" stroke-dasharray="4.9 2"/>
<text class="lg" x="579" y="66.32">Photoelectric absoption</text>
<path d="M555.4,75.46h16.6" stroke="#8c55c4" stroke-width="1.5" stroke-dasharray="4.9 2"/>
<text class="lg" x="579" y="78.76">Nuclear pair production</text>
<path d="M555.4,87.9h16.6" stroke="#864840" stroke-width="1.5" stroke-dasharray="4.9 2"/>
<text class="lg" x="579" y="91.2">Electronic pair production</text>
<text class="ti" x="545.5" y="9.7" text-anchor="middle">YBa<tspan class="sb" dy="2.4">2</tspan><tspan dy="-2.4">​</tspan>Cu<tspan class="sb" dy="2.4">3</tspan><tspan dy="-2.4">​</tspan>O<tspan class="sb" dy="2.4">7</tspan><tspan dy="-2.4">​</tspan></text>
<text class="xl" x="545.5" y="258.6" text-anchor="middle">Gamma Energy [MeV]</text>
<text class="xl" transform="translate(367.3,125) rotate(-90)" text-anchor="middle">Photon Cross-section [cm<tspan class="s2" dy="-3.4">2</tspan><tspan dy="3.4"> g</tspan><tspan class="s2" dy="-3.4">−1</tspan><tspan dy="3.4">]</tspan></text>
<text class="pl" x="403.8" y="32.2">(b)</text>
</svg>
</body></html>
